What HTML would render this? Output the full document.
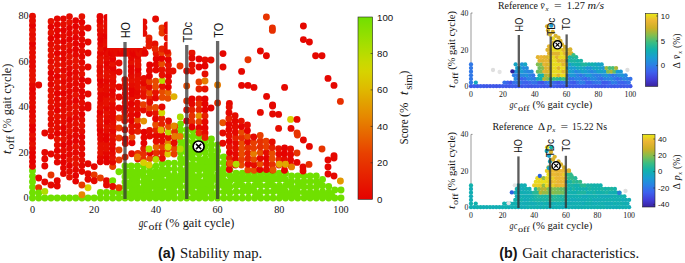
<!DOCTYPE html>
<html><head><meta charset="utf-8"><title>Stability map</title>
<style>html,body{margin:0;padding:0;background:#fff;}svg{display:block;}text{font-family:"Liberation Serif",serif;fill:#141414;}.ss{font-family:"Liberation Sans",sans-serif;}</style></head><body>
<svg width="685" height="263" viewBox="0 0 685 263">
<rect width="685" height="263" fill="#fff"/>
<defs>
<linearGradient id="gs" x1="0" y1="1" x2="0" y2="0">
<stop offset="0%" stop-color="#e50200"/>
<stop offset="5%" stop-color="#e60e00"/>
<stop offset="10%" stop-color="#e61b00"/>
<stop offset="15%" stop-color="#e72700"/>
<stop offset="20%" stop-color="#e73400"/>
<stop offset="25%" stop-color="#e84000"/>
<stop offset="30%" stop-color="#e85200"/>
<stop offset="35%" stop-color="#e76400"/>
<stop offset="40%" stop-color="#e67500"/>
<stop offset="45%" stop-color="#e68700"/>
<stop offset="50%" stop-color="#e49700"/>
<stop offset="55%" stop-color="#e1a700"/>
<stop offset="60%" stop-color="#dfb800"/>
<stop offset="65%" stop-color="#dbc600"/>
<stop offset="70%" stop-color="#d6d300"/>
<stop offset="75%" stop-color="#c9d900"/>
<stop offset="80%" stop-color="#b7dc00"/>
<stop offset="85%" stop-color="#a5de00"/>
<stop offset="90%" stop-color="#93df00"/>
<stop offset="95%" stop-color="#82df00"/>
<stop offset="100%" stop-color="#70e000"/>
</linearGradient>
<linearGradient id="gp" x1="0" y1="1" x2="0" y2="0">
<stop offset="0%" stop-color="#3a239e"/>
<stop offset="5%" stop-color="#3e31bc"/>
<stop offset="10%" stop-color="#423ed9"/>
<stop offset="15%" stop-color="#4050e3"/>
<stop offset="20%" stop-color="#3d61ee"/>
<stop offset="25%" stop-color="#3471e9"/>
<stop offset="30%" stop-color="#2a82e4"/>
<stop offset="35%" stop-color="#2190db"/>
<stop offset="40%" stop-color="#199ed1"/>
<stop offset="45%" stop-color="#15a7bf"/>
<stop offset="50%" stop-color="#11b1ae"/>
<stop offset="55%" stop-color="#24b799"/>
<stop offset="60%" stop-color="#38bd84"/>
<stop offset="65%" stop-color="#5dbd6a"/>
<stop offset="70%" stop-color="#82be50"/>
<stop offset="75%" stop-color="#a7b73b"/>
<stop offset="80%" stop-color="#cdb026"/>
<stop offset="85%" stop-color="#dcb32d"/>
<stop offset="90%" stop-color="#ecb535"/>
<stop offset="95%" stop-color="#eacf24"/>
<stop offset="100%" stop-color="#e8e914"/>
</linearGradient>
</defs>
<g id="main">
<g fill="#70e000">
<circle cx="32.5" cy="198.0" r="3.45"/>
<circle cx="32.5" cy="192.6" r="3.45"/>
<circle cx="32.5" cy="187.1" r="3.45"/>
<circle cx="32.5" cy="181.7" r="3.45"/>
<circle cx="32.5" cy="176.2" r="3.45"/>
<circle cx="32.5" cy="170.8" r="3.45"/>
<circle cx="38.7" cy="198.0" r="3.45"/>
<circle cx="44.8" cy="198.0" r="3.45"/>
<circle cx="51.0" cy="198.0" r="3.45"/>
<circle cx="57.2" cy="198.0" r="3.45"/>
<circle cx="63.4" cy="198.0" r="3.45"/>
<circle cx="69.5" cy="198.0" r="3.45"/>
<circle cx="75.7" cy="198.0" r="3.45"/>
<circle cx="81.9" cy="198.0" r="3.45"/>
<circle cx="88.0" cy="198.0" r="3.45"/>
<circle cx="94.2" cy="198.0" r="3.45"/>
<circle cx="100.4" cy="198.0" r="3.45"/>
<circle cx="100.4" cy="192.5" r="3.45"/>
<circle cx="106.5" cy="198.0" r="3.45"/>
<circle cx="106.5" cy="192.5" r="3.45"/>
<circle cx="112.7" cy="198.0" r="3.45"/>
<circle cx="112.7" cy="192.5" r="3.45"/>
<circle cx="118.9" cy="198.0" r="3.45"/>
<circle cx="118.9" cy="192.5" r="3.45"/>
<circle cx="125.0" cy="198.0" r="3.45"/>
<circle cx="125.0" cy="192.7" r="3.45"/>
<circle cx="125.0" cy="187.3" r="3.45"/>
<circle cx="125.0" cy="182.0" r="3.45"/>
<circle cx="125.0" cy="176.7" r="3.45"/>
<circle cx="125.0" cy="171.3" r="3.45"/>
<circle cx="125.0" cy="166.0" r="3.45"/>
<circle cx="131.2" cy="198.0" r="3.45"/>
<circle cx="131.2" cy="192.7" r="3.45"/>
<circle cx="131.2" cy="187.3" r="3.45"/>
<circle cx="131.2" cy="182.0" r="3.45"/>
<circle cx="131.2" cy="176.7" r="3.45"/>
<circle cx="131.2" cy="171.3" r="3.45"/>
<circle cx="131.2" cy="166.0" r="3.45"/>
<circle cx="137.4" cy="198.0" r="3.45"/>
<circle cx="137.4" cy="192.7" r="3.45"/>
<circle cx="137.4" cy="187.3" r="3.45"/>
<circle cx="137.4" cy="182.0" r="3.45"/>
<circle cx="137.4" cy="176.7" r="3.45"/>
<circle cx="137.4" cy="171.3" r="3.45"/>
<circle cx="137.4" cy="166.0" r="3.45"/>
<circle cx="143.6" cy="198.0" r="3.45"/>
<circle cx="143.6" cy="192.7" r="3.45"/>
<circle cx="143.6" cy="187.3" r="3.45"/>
<circle cx="143.6" cy="182.0" r="3.45"/>
<circle cx="143.6" cy="176.7" r="3.45"/>
<circle cx="143.6" cy="171.3" r="3.45"/>
<circle cx="143.6" cy="166.0" r="3.45"/>
<circle cx="149.7" cy="198.0" r="3.45"/>
<circle cx="149.7" cy="192.8" r="3.45"/>
<circle cx="149.7" cy="187.7" r="3.45"/>
<circle cx="149.7" cy="182.5" r="3.45"/>
<circle cx="149.7" cy="177.3" r="3.45"/>
<circle cx="149.7" cy="172.2" r="3.45"/>
<circle cx="149.7" cy="167.0" r="3.45"/>
<circle cx="155.9" cy="198.0" r="3.45"/>
<circle cx="155.9" cy="192.7" r="3.45"/>
<circle cx="155.9" cy="187.4" r="3.45"/>
<circle cx="155.9" cy="182.2" r="3.45"/>
<circle cx="155.9" cy="176.9" r="3.45"/>
<circle cx="155.9" cy="171.6" r="3.45"/>
<circle cx="155.9" cy="166.3" r="3.45"/>
<circle cx="162.1" cy="198.0" r="3.45"/>
<circle cx="162.1" cy="192.2" r="3.45"/>
<circle cx="162.1" cy="186.5" r="3.45"/>
<circle cx="162.1" cy="180.8" r="3.45"/>
<circle cx="162.1" cy="175.0" r="3.45"/>
<circle cx="162.1" cy="169.2" r="3.45"/>
<circle cx="162.1" cy="163.5" r="3.45"/>
<circle cx="168.2" cy="198.0" r="3.45"/>
<circle cx="168.2" cy="192.2" r="3.45"/>
<circle cx="168.2" cy="186.4" r="3.45"/>
<circle cx="168.2" cy="180.7" r="3.45"/>
<circle cx="168.2" cy="174.9" r="3.45"/>
<circle cx="168.2" cy="169.1" r="3.45"/>
<circle cx="168.2" cy="163.3" r="3.45"/>
<circle cx="174.4" cy="198.0" r="3.45"/>
<circle cx="174.4" cy="192.2" r="3.45"/>
<circle cx="174.4" cy="186.4" r="3.45"/>
<circle cx="174.4" cy="180.6" r="3.45"/>
<circle cx="174.4" cy="174.8" r="3.45"/>
<circle cx="174.4" cy="168.9" r="3.45"/>
<circle cx="174.4" cy="163.1" r="3.45"/>
<circle cx="180.6" cy="198.0" r="3.45"/>
<circle cx="180.6" cy="192.3" r="3.45"/>
<circle cx="180.6" cy="186.6" r="3.45"/>
<circle cx="180.6" cy="180.9" r="3.45"/>
<circle cx="180.6" cy="175.2" r="3.45"/>
<circle cx="180.6" cy="169.5" r="3.45"/>
<circle cx="180.6" cy="163.8" r="3.45"/>
<circle cx="180.6" cy="158.2" r="3.45"/>
<circle cx="180.6" cy="152.5" r="3.45"/>
<circle cx="180.6" cy="146.8" r="3.45"/>
<circle cx="180.6" cy="141.1" r="3.45"/>
<circle cx="180.6" cy="135.4" r="3.45"/>
<circle cx="180.6" cy="129.7" r="3.45"/>
<circle cx="180.6" cy="124.0" r="3.45"/>
<circle cx="186.8" cy="198.0" r="3.45"/>
<circle cx="186.8" cy="192.3" r="3.45"/>
<circle cx="186.8" cy="186.7" r="3.45"/>
<circle cx="186.8" cy="181.0" r="3.45"/>
<circle cx="186.8" cy="175.3" r="3.45"/>
<circle cx="186.8" cy="169.7" r="3.45"/>
<circle cx="186.8" cy="164.0" r="3.45"/>
<circle cx="186.8" cy="158.3" r="3.45"/>
<circle cx="186.8" cy="152.7" r="3.45"/>
<circle cx="186.8" cy="147.0" r="3.45"/>
<circle cx="186.8" cy="141.3" r="3.45"/>
<circle cx="186.8" cy="135.7" r="3.45"/>
<circle cx="186.8" cy="130.0" r="3.45"/>
<circle cx="192.9" cy="198.0" r="3.45"/>
<circle cx="192.9" cy="192.4" r="3.45"/>
<circle cx="192.9" cy="186.8" r="3.45"/>
<circle cx="192.9" cy="181.2" r="3.45"/>
<circle cx="192.9" cy="175.7" r="3.45"/>
<circle cx="192.9" cy="170.1" r="3.45"/>
<circle cx="192.9" cy="164.5" r="3.45"/>
<circle cx="192.9" cy="158.9" r="3.45"/>
<circle cx="192.9" cy="153.3" r="3.45"/>
<circle cx="192.9" cy="147.8" r="3.45"/>
<circle cx="192.9" cy="142.2" r="3.45"/>
<circle cx="192.9" cy="136.6" r="3.45"/>
<circle cx="192.9" cy="131.0" r="3.45"/>
<circle cx="199.1" cy="198.0" r="3.45"/>
<circle cx="199.1" cy="192.5" r="3.45"/>
<circle cx="199.1" cy="186.9" r="3.45"/>
<circle cx="199.1" cy="181.4" r="3.45"/>
<circle cx="199.1" cy="175.8" r="3.45"/>
<circle cx="199.1" cy="170.3" r="3.45"/>
<circle cx="199.1" cy="164.7" r="3.45"/>
<circle cx="199.1" cy="159.2" r="3.45"/>
<circle cx="199.1" cy="153.6" r="3.45"/>
<circle cx="199.1" cy="148.1" r="3.45"/>
<circle cx="199.1" cy="142.5" r="3.45"/>
<circle cx="199.1" cy="137.0" r="3.45"/>
<circle cx="205.3" cy="198.0" r="3.45"/>
<circle cx="205.3" cy="192.3" r="3.45"/>
<circle cx="205.3" cy="186.6" r="3.45"/>
<circle cx="205.3" cy="180.9" r="3.45"/>
<circle cx="205.3" cy="175.2" r="3.45"/>
<circle cx="205.3" cy="169.5" r="3.45"/>
<circle cx="205.3" cy="163.8" r="3.45"/>
<circle cx="205.3" cy="158.1" r="3.45"/>
<circle cx="205.3" cy="152.4" r="3.45"/>
<circle cx="205.3" cy="146.7" r="3.45"/>
<circle cx="205.3" cy="141.0" r="3.45"/>
<circle cx="211.4" cy="198.0" r="3.45"/>
<circle cx="211.4" cy="192.6" r="3.45"/>
<circle cx="211.4" cy="187.3" r="3.45"/>
<circle cx="211.4" cy="181.9" r="3.45"/>
<circle cx="211.4" cy="176.5" r="3.45"/>
<circle cx="211.4" cy="171.2" r="3.45"/>
<circle cx="211.4" cy="165.8" r="3.45"/>
<circle cx="211.4" cy="160.5" r="3.45"/>
<circle cx="211.4" cy="155.1" r="3.45"/>
<circle cx="211.4" cy="149.7" r="3.45"/>
<circle cx="211.4" cy="144.4" r="3.45"/>
<circle cx="211.4" cy="139.0" r="3.45"/>
<circle cx="217.6" cy="198.0" r="3.45"/>
<circle cx="217.6" cy="192.1" r="3.45"/>
<circle cx="217.6" cy="186.2" r="3.45"/>
<circle cx="217.6" cy="180.3" r="3.45"/>
<circle cx="217.6" cy="174.4" r="3.45"/>
<circle cx="217.6" cy="168.6" r="3.45"/>
<circle cx="217.6" cy="162.7" r="3.45"/>
<circle cx="217.6" cy="156.8" r="3.45"/>
<circle cx="217.6" cy="150.9" r="3.45"/>
<circle cx="217.6" cy="145.0" r="3.45"/>
<circle cx="223.8" cy="198.0" r="3.45"/>
<circle cx="223.8" cy="192.1" r="3.45"/>
<circle cx="223.8" cy="186.3" r="3.45"/>
<circle cx="223.8" cy="180.4" r="3.45"/>
<circle cx="223.8" cy="174.6" r="3.45"/>
<circle cx="223.8" cy="168.7" r="3.45"/>
<circle cx="223.8" cy="162.9" r="3.45"/>
<circle cx="223.8" cy="157.0" r="3.45"/>
<circle cx="229.9" cy="198.0" r="3.45"/>
<circle cx="229.9" cy="192.4" r="3.45"/>
<circle cx="229.9" cy="186.8" r="3.45"/>
<circle cx="229.9" cy="181.2" r="3.45"/>
<circle cx="229.9" cy="175.6" r="3.45"/>
<circle cx="229.9" cy="170.0" r="3.45"/>
<circle cx="236.1" cy="198.0" r="3.45"/>
<circle cx="236.1" cy="191.8" r="3.45"/>
<circle cx="236.1" cy="185.7" r="3.45"/>
<circle cx="236.1" cy="179.5" r="3.45"/>
<circle cx="236.1" cy="173.3" r="3.45"/>
<circle cx="242.3" cy="198.0" r="3.45"/>
<circle cx="242.3" cy="191.8" r="3.45"/>
<circle cx="242.3" cy="185.7" r="3.45"/>
<circle cx="242.3" cy="179.5" r="3.45"/>
<circle cx="242.3" cy="173.3" r="3.45"/>
<circle cx="248.4" cy="198.0" r="3.45"/>
<circle cx="248.4" cy="191.8" r="3.45"/>
<circle cx="248.4" cy="185.7" r="3.45"/>
<circle cx="248.4" cy="179.5" r="3.45"/>
<circle cx="248.4" cy="173.3" r="3.45"/>
<circle cx="254.6" cy="198.0" r="3.45"/>
<circle cx="254.6" cy="191.8" r="3.45"/>
<circle cx="254.6" cy="185.7" r="3.45"/>
<circle cx="254.6" cy="179.5" r="3.45"/>
<circle cx="254.6" cy="173.3" r="3.45"/>
<circle cx="260.8" cy="198.0" r="3.45"/>
<circle cx="260.8" cy="191.8" r="3.45"/>
<circle cx="260.8" cy="185.7" r="3.45"/>
<circle cx="260.8" cy="179.5" r="3.45"/>
<circle cx="260.8" cy="173.3" r="3.45"/>
<circle cx="267.0" cy="198.0" r="3.45"/>
<circle cx="267.0" cy="191.8" r="3.45"/>
<circle cx="267.0" cy="185.7" r="3.45"/>
<circle cx="267.0" cy="179.5" r="3.45"/>
<circle cx="267.0" cy="173.3" r="3.45"/>
<circle cx="273.1" cy="198.0" r="3.45"/>
<circle cx="273.1" cy="191.8" r="3.45"/>
<circle cx="273.1" cy="185.7" r="3.45"/>
<circle cx="273.1" cy="179.5" r="3.45"/>
<circle cx="273.1" cy="173.3" r="3.45"/>
<circle cx="279.3" cy="198.0" r="3.45"/>
<circle cx="279.3" cy="191.8" r="3.45"/>
<circle cx="279.3" cy="185.7" r="3.45"/>
<circle cx="279.3" cy="179.5" r="3.45"/>
<circle cx="279.3" cy="173.3" r="3.45"/>
<circle cx="285.5" cy="198.0" r="3.45"/>
<circle cx="285.5" cy="191.8" r="3.45"/>
<circle cx="285.5" cy="185.7" r="3.45"/>
<circle cx="285.5" cy="179.5" r="3.45"/>
<circle cx="285.5" cy="173.3" r="3.45"/>
<circle cx="291.6" cy="198.0" r="3.45"/>
<circle cx="291.6" cy="192.5" r="3.45"/>
<circle cx="291.6" cy="187.0" r="3.45"/>
<circle cx="291.6" cy="181.5" r="3.45"/>
<circle cx="291.6" cy="176.0" r="3.45"/>
<circle cx="297.8" cy="198.0" r="3.45"/>
<circle cx="297.8" cy="192.5" r="3.45"/>
<circle cx="297.8" cy="187.0" r="3.45"/>
<circle cx="297.8" cy="181.5" r="3.45"/>
<circle cx="297.8" cy="176.0" r="3.45"/>
<circle cx="304.0" cy="198.0" r="3.45"/>
<circle cx="304.0" cy="192.5" r="3.45"/>
<circle cx="304.0" cy="187.0" r="3.45"/>
<circle cx="304.0" cy="181.5" r="3.45"/>
<circle cx="304.0" cy="176.0" r="3.45"/>
<circle cx="310.1" cy="198.0" r="3.45"/>
<circle cx="310.1" cy="192.5" r="3.45"/>
<circle cx="310.1" cy="187.0" r="3.45"/>
<circle cx="310.1" cy="181.5" r="3.45"/>
<circle cx="310.1" cy="176.0" r="3.45"/>
<circle cx="316.3" cy="198.0" r="3.45"/>
<circle cx="316.3" cy="192.5" r="3.45"/>
<circle cx="316.3" cy="187.0" r="3.45"/>
<circle cx="316.3" cy="181.5" r="3.45"/>
<circle cx="316.3" cy="176.0" r="3.45"/>
<circle cx="322.5" cy="198.0" r="3.45"/>
<circle cx="322.5" cy="191.8" r="3.45"/>
<circle cx="322.5" cy="185.7" r="3.45"/>
<circle cx="322.5" cy="179.5" r="3.45"/>
<circle cx="328.7" cy="198.0" r="3.45"/>
<circle cx="328.7" cy="192.2" r="3.45"/>
<circle cx="328.7" cy="186.5" r="3.45"/>
<circle cx="334.8" cy="198.0" r="3.45"/>
<circle cx="334.8" cy="190.0" r="3.45"/>
<circle cx="341.0" cy="198.0" r="3.45"/>
<circle cx="341.0" cy="190.0" r="3.45"/>
<circle cx="128.1" cy="195.2" r="3.45"/>
<circle cx="128.1" cy="184.0" r="3.45"/>
<circle cx="128.1" cy="172.8" r="3.45"/>
<circle cx="134.3" cy="195.2" r="3.45"/>
<circle cx="134.3" cy="189.6" r="3.45"/>
<circle cx="134.3" cy="184.0" r="3.45"/>
<circle cx="134.3" cy="178.4" r="3.45"/>
<circle cx="134.3" cy="172.8" r="3.45"/>
<circle cx="140.5" cy="195.2" r="3.45"/>
<circle cx="140.5" cy="189.6" r="3.45"/>
<circle cx="140.5" cy="172.8" r="3.45"/>
<circle cx="146.6" cy="195.2" r="3.45"/>
<circle cx="146.6" cy="189.6" r="3.45"/>
<circle cx="146.6" cy="184.0" r="3.45"/>
<circle cx="146.6" cy="178.4" r="3.45"/>
<circle cx="152.8" cy="195.2" r="3.45"/>
<circle cx="152.8" cy="184.0" r="3.45"/>
<circle cx="152.8" cy="172.8" r="3.45"/>
<circle cx="159.0" cy="195.2" r="3.45"/>
<circle cx="159.0" cy="189.6" r="3.45"/>
<circle cx="159.0" cy="184.0" r="3.45"/>
<circle cx="159.0" cy="178.4" r="3.45"/>
<circle cx="159.0" cy="172.8" r="3.45"/>
<circle cx="165.2" cy="195.2" r="3.45"/>
<circle cx="165.2" cy="184.0" r="3.45"/>
<circle cx="165.2" cy="172.8" r="3.45"/>
<circle cx="171.3" cy="195.2" r="3.45"/>
<circle cx="171.3" cy="189.6" r="3.45"/>
<circle cx="171.3" cy="184.0" r="3.45"/>
<circle cx="171.3" cy="178.4" r="3.45"/>
<circle cx="177.5" cy="184.0" r="3.45"/>
<circle cx="177.5" cy="178.4" r="3.45"/>
<circle cx="183.7" cy="195.2" r="3.45"/>
<circle cx="183.7" cy="178.4" r="3.45"/>
<circle cx="183.7" cy="172.8" r="3.45"/>
<circle cx="183.7" cy="161.6" r="3.45"/>
<circle cx="183.7" cy="150.4" r="3.45"/>
<circle cx="183.7" cy="144.8" r="3.45"/>
<circle cx="189.8" cy="189.6" r="3.45"/>
<circle cx="189.8" cy="184.0" r="3.45"/>
<circle cx="189.8" cy="178.4" r="3.45"/>
<circle cx="189.8" cy="172.8" r="3.45"/>
<circle cx="189.8" cy="167.2" r="3.45"/>
<circle cx="189.8" cy="156.0" r="3.45"/>
<circle cx="189.8" cy="150.4" r="3.45"/>
<circle cx="196.0" cy="195.2" r="3.45"/>
<circle cx="196.0" cy="184.0" r="3.45"/>
<circle cx="196.0" cy="178.4" r="3.45"/>
<circle cx="196.0" cy="167.2" r="3.45"/>
<circle cx="196.0" cy="150.4" r="3.45"/>
<circle cx="202.2" cy="195.2" r="3.45"/>
<circle cx="202.2" cy="189.6" r="3.45"/>
<circle cx="202.2" cy="184.0" r="3.45"/>
<circle cx="202.2" cy="167.2" r="3.45"/>
<circle cx="202.2" cy="161.6" r="3.45"/>
<circle cx="208.3" cy="189.6" r="3.45"/>
<circle cx="208.3" cy="184.0" r="3.45"/>
<circle cx="208.3" cy="178.4" r="3.45"/>
<circle cx="208.3" cy="172.8" r="3.45"/>
<circle cx="208.3" cy="167.2" r="3.45"/>
<circle cx="208.3" cy="161.6" r="3.45"/>
<circle cx="214.5" cy="195.2" r="3.45"/>
<circle cx="214.5" cy="178.4" r="3.45"/>
<circle cx="214.5" cy="167.2" r="3.45"/>
<circle cx="214.5" cy="161.6" r="3.45"/>
<circle cx="214.5" cy="156.0" r="3.45"/>
<circle cx="220.7" cy="184.0" r="3.45"/>
<circle cx="220.7" cy="178.4" r="3.45"/>
<circle cx="220.7" cy="172.8" r="3.45"/>
<circle cx="226.9" cy="189.6" r="3.45"/>
<circle cx="226.9" cy="184.0" r="3.45"/>
<circle cx="233.0" cy="178.4" r="3.45"/>
<circle cx="239.2" cy="184.0" r="3.45"/>
<circle cx="239.2" cy="178.4" r="3.45"/>
<circle cx="245.4" cy="189.6" r="3.45"/>
<circle cx="245.4" cy="178.4" r="3.45"/>
<circle cx="251.5" cy="189.6" r="3.45"/>
<circle cx="251.5" cy="178.4" r="3.45"/>
<circle cx="257.7" cy="195.2" r="3.45"/>
<circle cx="257.7" cy="184.0" r="3.45"/>
<circle cx="257.7" cy="178.4" r="3.45"/>
<circle cx="263.9" cy="178.4" r="3.45"/>
<circle cx="270.0" cy="184.0" r="3.45"/>
<circle cx="270.0" cy="178.4" r="3.45"/>
<circle cx="276.2" cy="189.6" r="3.45"/>
<circle cx="276.2" cy="178.4" r="3.45"/>
<circle cx="282.4" cy="195.2" r="3.45"/>
<circle cx="282.4" cy="189.6" r="3.45"/>
<circle cx="282.4" cy="178.4" r="3.45"/>
<circle cx="288.6" cy="195.2" r="3.45"/>
<circle cx="288.6" cy="184.0" r="3.45"/>
<circle cx="294.7" cy="195.2" r="3.45"/>
<circle cx="294.7" cy="189.6" r="3.45"/>
<circle cx="300.9" cy="184.0" r="3.45"/>
<circle cx="307.1" cy="195.2" r="3.45"/>
<circle cx="313.2" cy="195.2" r="3.45"/>
<circle cx="319.4" cy="195.2" r="3.45"/>
<circle cx="319.4" cy="184.0" r="3.45"/>
<circle cx="325.6" cy="195.2" r="3.45"/>
<circle cx="331.7" cy="195.2" r="3.45"/>
</g><g>
<circle cx="32.5" cy="166.2" r="3.45" fill="#e50700"/>
<circle cx="32.5" cy="161.6" r="3.45" fill="#e50200"/>
<circle cx="32.5" cy="157.1" r="3.45" fill="#e50200"/>
<circle cx="32.5" cy="152.6" r="3.45" fill="#e50200"/>
<circle cx="32.5" cy="148.0" r="3.45" fill="#e50700"/>
<circle cx="32.5" cy="143.5" r="3.45" fill="#e61100"/>
<circle cx="32.5" cy="138.9" r="3.45" fill="#e50700"/>
<circle cx="32.5" cy="134.4" r="3.45" fill="#e61100"/>
<circle cx="32.5" cy="129.8" r="3.45" fill="#e50200"/>
<circle cx="32.5" cy="125.3" r="3.45" fill="#e50200"/>
<circle cx="32.5" cy="120.7" r="3.45" fill="#e61100"/>
<circle cx="32.5" cy="116.2" r="3.45" fill="#e50700"/>
<circle cx="32.5" cy="111.6" r="3.45" fill="#e50700"/>
<circle cx="32.5" cy="107.1" r="3.45" fill="#e50700"/>
<circle cx="32.5" cy="102.6" r="3.45" fill="#e50c00"/>
<circle cx="32.5" cy="98.0" r="3.45" fill="#e50700"/>
<circle cx="32.5" cy="93.5" r="3.45" fill="#e50700"/>
<circle cx="32.5" cy="88.9" r="3.45" fill="#e50200"/>
<circle cx="32.5" cy="84.4" r="3.45" fill="#e50700"/>
<circle cx="32.5" cy="79.8" r="3.45" fill="#e61100"/>
<circle cx="32.5" cy="75.3" r="3.45" fill="#e61100"/>
<circle cx="32.5" cy="70.7" r="3.45" fill="#e61100"/>
<circle cx="32.5" cy="66.2" r="3.45" fill="#e50700"/>
<circle cx="32.5" cy="61.7" r="3.45" fill="#e50700"/>
<circle cx="32.5" cy="57.1" r="3.45" fill="#e50c00"/>
<circle cx="32.5" cy="52.6" r="3.45" fill="#e50c00"/>
<circle cx="32.5" cy="48.0" r="3.45" fill="#e50c00"/>
<circle cx="32.5" cy="43.5" r="3.45" fill="#e50200"/>
<circle cx="32.5" cy="38.9" r="3.45" fill="#e61100"/>
<circle cx="32.5" cy="34.4" r="3.45" fill="#e50c00"/>
<circle cx="32.5" cy="29.8" r="3.45" fill="#e61100"/>
<circle cx="32.5" cy="25.3" r="3.45" fill="#e50200"/>
<circle cx="32.5" cy="20.7" r="3.45" fill="#e50c00"/>
<circle cx="32.5" cy="16.2" r="3.45" fill="#e50c00"/>
<circle cx="51.0" cy="21.4" r="3.3" fill="#e61100"/>
<circle cx="51.0" cy="27.1" r="3.3" fill="#e50200"/>
<circle cx="51.0" cy="32.9" r="3.3" fill="#e61100"/>
<circle cx="51.0" cy="38.6" r="3.3" fill="#e50200"/>
<circle cx="51.0" cy="44.4" r="3.3" fill="#e50c00"/>
<circle cx="51.0" cy="50.1" r="3.3" fill="#e61100"/>
<circle cx="51.0" cy="55.8" r="3.3" fill="#e61100"/>
<circle cx="51.0" cy="61.6" r="3.3" fill="#e50c00"/>
<circle cx="51.0" cy="67.3" r="3.3" fill="#e61100"/>
<circle cx="51.0" cy="73.1" r="3.3" fill="#e50200"/>
<circle cx="51.0" cy="78.8" r="3.3" fill="#e50700"/>
<circle cx="51.0" cy="84.5" r="3.3" fill="#e50700"/>
<circle cx="51.0" cy="90.3" r="3.3" fill="#e61100"/>
<circle cx="51.0" cy="96.0" r="3.3" fill="#e61100"/>
<circle cx="51.0" cy="101.8" r="3.3" fill="#e61100"/>
<circle cx="51.0" cy="107.5" r="3.3" fill="#e50c00"/>
<circle cx="51.0" cy="113.2" r="3.3" fill="#e61100"/>
<circle cx="51.0" cy="119.0" r="3.3" fill="#e50c00"/>
<circle cx="51.0" cy="124.7" r="3.3" fill="#e50c00"/>
<circle cx="51.0" cy="130.5" r="3.3" fill="#e61100"/>
<circle cx="51.0" cy="136.2" r="3.3" fill="#e50700"/>
<circle cx="57.2" cy="18.8" r="3.3" fill="#e50700"/>
<circle cx="57.2" cy="24.5" r="3.3" fill="#e50700"/>
<circle cx="57.2" cy="30.3" r="3.3" fill="#e50700"/>
<circle cx="57.2" cy="36.0" r="3.3" fill="#e50200"/>
<circle cx="57.2" cy="41.8" r="3.3" fill="#e50c00"/>
<circle cx="57.2" cy="47.5" r="3.3" fill="#e50c00"/>
<circle cx="57.2" cy="53.2" r="3.3" fill="#e50200"/>
<circle cx="57.2" cy="59.0" r="3.3" fill="#e61100"/>
<circle cx="57.2" cy="64.7" r="3.3" fill="#e61100"/>
<circle cx="57.2" cy="70.5" r="3.3" fill="#e61100"/>
<circle cx="57.2" cy="76.2" r="3.3" fill="#e50200"/>
<circle cx="57.2" cy="81.9" r="3.3" fill="#e61100"/>
<circle cx="57.2" cy="87.7" r="3.3" fill="#e50c00"/>
<circle cx="57.2" cy="93.4" r="3.3" fill="#e50200"/>
<circle cx="57.2" cy="99.2" r="3.3" fill="#e50700"/>
<circle cx="57.2" cy="104.9" r="3.3" fill="#e50c00"/>
<circle cx="57.2" cy="110.6" r="3.3" fill="#e50200"/>
<circle cx="57.2" cy="116.4" r="3.3" fill="#e61100"/>
<circle cx="57.2" cy="122.1" r="3.3" fill="#e50c00"/>
<circle cx="57.2" cy="127.9" r="3.3" fill="#e50c00"/>
<circle cx="57.2" cy="133.6" r="3.3" fill="#e50200"/>
<circle cx="57.2" cy="139.3" r="3.3" fill="#e61100"/>
<circle cx="57.2" cy="145.1" r="3.3" fill="#e50c00"/>
<circle cx="57.2" cy="150.8" r="3.3" fill="#e50200"/>
<circle cx="57.2" cy="156.6" r="3.3" fill="#e50c00"/>
<circle cx="57.2" cy="162.3" r="3.3" fill="#e50700"/>
<circle cx="63.4" cy="18.8" r="3.3" fill="#e50700"/>
<circle cx="63.4" cy="24.5" r="3.3" fill="#e50c00"/>
<circle cx="63.4" cy="30.3" r="3.3" fill="#e50200"/>
<circle cx="63.4" cy="36.0" r="3.3" fill="#e50c00"/>
<circle cx="63.4" cy="41.8" r="3.3" fill="#e50200"/>
<circle cx="63.4" cy="47.5" r="3.3" fill="#e50c00"/>
<circle cx="63.4" cy="53.2" r="3.3" fill="#e50700"/>
<circle cx="63.4" cy="59.0" r="3.3" fill="#e50700"/>
<circle cx="63.4" cy="64.7" r="3.3" fill="#e50c00"/>
<circle cx="63.4" cy="70.5" r="3.3" fill="#e50700"/>
<circle cx="63.4" cy="76.2" r="3.3" fill="#e61100"/>
<circle cx="63.4" cy="81.9" r="3.3" fill="#e50700"/>
<circle cx="63.4" cy="87.7" r="3.3" fill="#e61100"/>
<circle cx="63.4" cy="93.4" r="3.3" fill="#e50200"/>
<circle cx="63.4" cy="99.2" r="3.3" fill="#e50c00"/>
<circle cx="63.4" cy="104.9" r="3.3" fill="#e50700"/>
<circle cx="63.4" cy="110.6" r="3.3" fill="#e50c00"/>
<circle cx="63.4" cy="116.4" r="3.3" fill="#e50c00"/>
<circle cx="63.4" cy="122.1" r="3.3" fill="#e50c00"/>
<circle cx="63.4" cy="127.9" r="3.3" fill="#e50200"/>
<circle cx="63.4" cy="133.6" r="3.3" fill="#e50700"/>
<circle cx="63.4" cy="139.3" r="3.3" fill="#e61100"/>
<circle cx="63.4" cy="145.1" r="3.3" fill="#e50200"/>
<circle cx="63.4" cy="150.8" r="3.3" fill="#e50c00"/>
<circle cx="63.4" cy="156.6" r="3.3" fill="#e50200"/>
<circle cx="63.4" cy="162.3" r="3.3" fill="#e50200"/>
<circle cx="63.4" cy="168.0" r="3.3" fill="#e50700"/>
<circle cx="63.4" cy="173.8" r="3.3" fill="#e50700"/>
<circle cx="69.5" cy="16.6" r="3.3" fill="#e50c00"/>
<circle cx="69.5" cy="22.3" r="3.3" fill="#e61100"/>
<circle cx="69.5" cy="28.1" r="3.3" fill="#e50200"/>
<circle cx="69.5" cy="33.8" r="3.3" fill="#e50700"/>
<circle cx="69.5" cy="39.6" r="3.3" fill="#e50200"/>
<circle cx="69.5" cy="45.3" r="3.3" fill="#e61100"/>
<circle cx="69.5" cy="51.0" r="3.3" fill="#e50700"/>
<circle cx="69.5" cy="56.8" r="3.3" fill="#e61100"/>
<circle cx="69.5" cy="62.5" r="3.3" fill="#e50c00"/>
<circle cx="69.5" cy="68.3" r="3.3" fill="#e50700"/>
<circle cx="69.5" cy="74.0" r="3.3" fill="#e50200"/>
<circle cx="69.5" cy="79.7" r="3.3" fill="#e50700"/>
<circle cx="69.5" cy="85.5" r="3.3" fill="#e50700"/>
<circle cx="69.5" cy="91.2" r="3.3" fill="#e50700"/>
<circle cx="69.5" cy="97.0" r="3.3" fill="#e50700"/>
<circle cx="69.5" cy="102.7" r="3.3" fill="#e50700"/>
<circle cx="69.5" cy="108.4" r="3.3" fill="#e50c00"/>
<circle cx="69.5" cy="114.2" r="3.3" fill="#e61100"/>
<circle cx="69.5" cy="119.9" r="3.3" fill="#e50200"/>
<circle cx="69.5" cy="125.7" r="3.3" fill="#e50c00"/>
<circle cx="69.5" cy="131.4" r="3.3" fill="#e61100"/>
<circle cx="69.5" cy="137.1" r="3.3" fill="#e50700"/>
<circle cx="69.5" cy="142.9" r="3.3" fill="#e50200"/>
<circle cx="69.5" cy="148.6" r="3.3" fill="#e50700"/>
<circle cx="69.5" cy="154.4" r="3.3" fill="#e50700"/>
<circle cx="69.5" cy="160.1" r="3.3" fill="#e61100"/>
<circle cx="69.5" cy="165.8" r="3.3" fill="#e50200"/>
<circle cx="69.5" cy="171.6" r="3.3" fill="#e50c00"/>
<circle cx="69.5" cy="177.3" r="3.3" fill="#e61100"/>
<circle cx="75.7" cy="20.5" r="3.3" fill="#e50200"/>
<circle cx="75.7" cy="26.2" r="3.3" fill="#e50200"/>
<circle cx="75.7" cy="32.0" r="3.3" fill="#e50c00"/>
<circle cx="75.7" cy="37.7" r="3.3" fill="#e50200"/>
<circle cx="75.7" cy="43.5" r="3.3" fill="#e50200"/>
<circle cx="75.7" cy="49.2" r="3.3" fill="#e50200"/>
<circle cx="75.7" cy="54.9" r="3.3" fill="#e50700"/>
<circle cx="75.7" cy="60.7" r="3.3" fill="#e61100"/>
<circle cx="75.7" cy="66.4" r="3.3" fill="#e61100"/>
<circle cx="75.7" cy="72.2" r="3.3" fill="#e50700"/>
<circle cx="75.7" cy="77.9" r="3.3" fill="#e50c00"/>
<circle cx="75.7" cy="83.6" r="3.3" fill="#e50700"/>
<circle cx="75.7" cy="89.4" r="3.3" fill="#e50700"/>
<circle cx="75.7" cy="95.1" r="3.3" fill="#e61100"/>
<circle cx="75.7" cy="100.9" r="3.3" fill="#e50200"/>
<circle cx="75.7" cy="106.6" r="3.3" fill="#e61100"/>
<circle cx="75.7" cy="112.3" r="3.3" fill="#e50c00"/>
<circle cx="75.7" cy="118.1" r="3.3" fill="#e50700"/>
<circle cx="75.7" cy="123.8" r="3.3" fill="#e50c00"/>
<circle cx="75.7" cy="129.6" r="3.3" fill="#e50700"/>
<circle cx="75.7" cy="135.3" r="3.3" fill="#e50700"/>
<circle cx="75.7" cy="141.0" r="3.3" fill="#e50200"/>
<circle cx="75.7" cy="146.8" r="3.3" fill="#e61100"/>
<circle cx="75.7" cy="152.5" r="3.3" fill="#e50700"/>
<circle cx="75.7" cy="158.3" r="3.3" fill="#e61100"/>
<circle cx="75.7" cy="164.0" r="3.3" fill="#e61100"/>
<circle cx="75.7" cy="169.7" r="3.3" fill="#e50700"/>
<circle cx="75.7" cy="175.5" r="3.3" fill="#e50200"/>
<circle cx="75.7" cy="181.2" r="3.3" fill="#e50200"/>
<circle cx="81.9" cy="16.6" r="3.3" fill="#e61100"/>
<circle cx="81.9" cy="22.3" r="3.3" fill="#e50200"/>
<circle cx="81.9" cy="28.1" r="3.3" fill="#e50c00"/>
<circle cx="81.9" cy="33.8" r="3.3" fill="#e50200"/>
<circle cx="81.9" cy="39.6" r="3.3" fill="#e50700"/>
<circle cx="81.9" cy="45.3" r="3.3" fill="#e50200"/>
<circle cx="81.9" cy="51.0" r="3.3" fill="#e50c00"/>
<circle cx="81.9" cy="56.8" r="3.3" fill="#e50700"/>
<circle cx="81.9" cy="62.5" r="3.3" fill="#e50700"/>
<circle cx="81.9" cy="68.3" r="3.3" fill="#e50c00"/>
<circle cx="81.9" cy="74.0" r="3.3" fill="#e61100"/>
<circle cx="81.9" cy="79.7" r="3.3" fill="#e50200"/>
<circle cx="81.9" cy="85.5" r="3.3" fill="#e50700"/>
<circle cx="81.9" cy="91.2" r="3.3" fill="#e50200"/>
<circle cx="81.9" cy="97.0" r="3.3" fill="#e50200"/>
<circle cx="81.9" cy="102.7" r="3.3" fill="#e50c00"/>
<circle cx="81.9" cy="108.4" r="3.3" fill="#e50700"/>
<circle cx="81.9" cy="114.2" r="3.3" fill="#e50200"/>
<circle cx="81.9" cy="119.9" r="3.3" fill="#e50c00"/>
<circle cx="81.9" cy="125.7" r="3.3" fill="#e61100"/>
<circle cx="81.9" cy="131.4" r="3.3" fill="#e50c00"/>
<circle cx="81.9" cy="137.1" r="3.3" fill="#e50200"/>
<circle cx="81.9" cy="142.9" r="3.3" fill="#e50700"/>
<circle cx="81.9" cy="148.6" r="3.3" fill="#e50700"/>
<circle cx="81.9" cy="154.4" r="3.3" fill="#e50700"/>
<circle cx="81.9" cy="160.1" r="3.3" fill="#e50c00"/>
<circle cx="81.9" cy="165.8" r="3.3" fill="#e50700"/>
<circle cx="81.9" cy="171.6" r="3.3" fill="#e50700"/>
<circle cx="88.0" cy="28.0" r="3.45" fill="#e50700"/>
<circle cx="88.0" cy="42.0" r="3.45" fill="#e50700"/>
<circle cx="88.0" cy="53.0" r="3.45" fill="#e50700"/>
<circle cx="88.0" cy="67.0" r="3.45" fill="#e50700"/>
<circle cx="88.0" cy="81.0" r="3.45" fill="#e50700"/>
<circle cx="88.0" cy="94.0" r="3.45" fill="#e50700"/>
<circle cx="88.0" cy="105.0" r="3.45" fill="#e50700"/>
<circle cx="88.0" cy="108.0" r="3.45" fill="#e50700"/>
<circle cx="88.0" cy="163.8" r="3.45" fill="#e50700"/>
<circle cx="88.0" cy="173.7" r="3.45" fill="#e50700"/>
<circle cx="88.0" cy="179.3" r="3.45" fill="#e50700"/>
<circle cx="88.0" cy="187.7" r="3.45" fill="#d6d300"/>
<circle cx="38.7" cy="85.0" r="3.45" fill="#e50700"/>
<circle cx="38.7" cy="178.0" r="3.45" fill="#e50700"/>
<circle cx="38.7" cy="187.7" r="3.45" fill="#e73400"/>
<circle cx="38.7" cy="193.0" r="3.45" fill="#70e000"/>
<circle cx="44.8" cy="133.0" r="3.45" fill="#e50700"/>
<circle cx="44.8" cy="152.5" r="3.45" fill="#e50700"/>
<circle cx="44.8" cy="159.0" r="3.45" fill="#e50700"/>
<circle cx="44.8" cy="166.0" r="3.45" fill="#e50700"/>
<circle cx="44.8" cy="182.0" r="3.45" fill="#e50700"/>
<circle cx="44.8" cy="191.4" r="3.45" fill="#b0dd00"/>
<circle cx="51.0" cy="154.0" r="3.45" fill="#e50700"/>
<circle cx="51.0" cy="175.0" r="3.45" fill="#e73400"/>
<circle cx="51.0" cy="185.0" r="3.45" fill="#e50900"/>
<circle cx="57.2" cy="180.7" r="3.45" fill="#e50700"/>
<circle cx="57.2" cy="186.0" r="3.45" fill="#e50700"/>
<circle cx="81.9" cy="185.0" r="3.45" fill="#e83900"/>
<circle cx="81.9" cy="194.8" r="3.45" fill="#e68700"/>
<circle cx="94.2" cy="166.6" r="3.45" fill="#e50700"/>
<circle cx="94.2" cy="175.0" r="3.45" fill="#e83900"/>
<circle cx="94.2" cy="180.7" r="3.45" fill="#e50900"/>
<circle cx="100.4" cy="178.0" r="3.45" fill="#e83e00"/>
<circle cx="106.5" cy="180.7" r="3.45" fill="#e50900"/>
<circle cx="106.5" cy="185.0" r="3.45" fill="#e50900"/>
<circle cx="112.7" cy="166.6" r="3.45" fill="#e83e00"/>
<circle cx="112.7" cy="180.7" r="3.45" fill="#70e000"/>
<circle cx="112.7" cy="186.5" r="3.45" fill="#e50900"/>
<circle cx="118.9" cy="171.7" r="3.45" fill="#70e000"/>
<circle cx="118.9" cy="187.7" r="3.45" fill="#e83900"/>
<circle cx="100.3" cy="161.7" r="3.45" fill="#e50200"/>
<circle cx="100.5" cy="157.2" r="3.45" fill="#e50700"/>
<circle cx="100.6" cy="152.6" r="3.45" fill="#e61100"/>
<circle cx="100.7" cy="148.1" r="3.45" fill="#e61100"/>
<circle cx="100.7" cy="143.6" r="3.45" fill="#e61100"/>
<circle cx="100.6" cy="139.0" r="3.45" fill="#e50700"/>
<circle cx="100.4" cy="134.5" r="3.45" fill="#e50700"/>
<circle cx="100.2" cy="129.9" r="3.45" fill="#e50200"/>
<circle cx="100.1" cy="125.4" r="3.45" fill="#e50c00"/>
<circle cx="100.0" cy="120.9" r="3.45" fill="#e61100"/>
<circle cx="100.1" cy="116.3" r="3.45" fill="#e50c00"/>
<circle cx="100.2" cy="111.8" r="3.45" fill="#e50200"/>
<circle cx="100.4" cy="107.2" r="3.45" fill="#e61100"/>
<circle cx="100.6" cy="102.7" r="3.45" fill="#e50c00"/>
<circle cx="100.7" cy="98.2" r="3.45" fill="#e50700"/>
<circle cx="100.7" cy="93.6" r="3.45" fill="#e50700"/>
<circle cx="100.6" cy="89.1" r="3.45" fill="#e61100"/>
<circle cx="100.5" cy="84.6" r="3.45" fill="#e50700"/>
<circle cx="100.3" cy="80.0" r="3.45" fill="#e50200"/>
<circle cx="100.1" cy="75.5" r="3.45" fill="#e61100"/>
<circle cx="100.0" cy="71.0" r="3.45" fill="#e50c00"/>
<circle cx="100.0" cy="66.4" r="3.45" fill="#e50700"/>
<circle cx="100.2" cy="61.9" r="3.45" fill="#e61100"/>
<circle cx="100.3" cy="57.3" r="3.45" fill="#e61100"/>
<circle cx="100.5" cy="52.8" r="3.45" fill="#e50700"/>
<circle cx="100.7" cy="48.3" r="3.45" fill="#e61100"/>
<circle cx="100.7" cy="43.7" r="3.45" fill="#e50700"/>
<circle cx="100.7" cy="39.2" r="3.45" fill="#e50200"/>
<circle cx="100.5" cy="34.6" r="3.45" fill="#e50700"/>
<circle cx="100.3" cy="30.1" r="3.45" fill="#e50c00"/>
<circle cx="100.2" cy="25.6" r="3.45" fill="#e61100"/>
<circle cx="100.0" cy="21.0" r="3.45" fill="#e50700"/>
<circle cx="100.0" cy="16.5" r="3.45" fill="#e50200"/>
<circle cx="106.7" cy="161.9" r="3.45" fill="#e50200"/>
<circle cx="106.5" cy="157.4" r="3.45" fill="#e50200"/>
<circle cx="106.3" cy="152.9" r="3.45" fill="#e50700"/>
<circle cx="106.2" cy="148.4" r="3.45" fill="#e61100"/>
<circle cx="106.2" cy="143.8" r="3.45" fill="#e61100"/>
<circle cx="106.3" cy="139.3" r="3.45" fill="#e50200"/>
<circle cx="106.5" cy="134.8" r="3.45" fill="#e50200"/>
<circle cx="106.7" cy="130.3" r="3.45" fill="#e50c00"/>
<circle cx="106.8" cy="125.8" r="3.45" fill="#e61100"/>
<circle cx="106.9" cy="121.3" r="3.45" fill="#e50200"/>
<circle cx="106.9" cy="116.8" r="3.45" fill="#e50c00"/>
<circle cx="106.7" cy="112.3" r="3.45" fill="#e61100"/>
<circle cx="106.5" cy="107.8" r="3.45" fill="#e50700"/>
<circle cx="106.4" cy="103.2" r="3.45" fill="#e61100"/>
<circle cx="106.2" cy="98.7" r="3.45" fill="#e61100"/>
<circle cx="106.2" cy="94.2" r="3.45" fill="#e50700"/>
<circle cx="106.3" cy="89.7" r="3.45" fill="#e50c00"/>
<circle cx="106.4" cy="85.2" r="3.45" fill="#e50c00"/>
<circle cx="106.6" cy="80.7" r="3.45" fill="#e50700"/>
<circle cx="106.8" cy="76.2" r="3.45" fill="#e61100"/>
<circle cx="106.9" cy="71.6" r="3.45" fill="#e61100"/>
<circle cx="106.9" cy="67.1" r="3.45" fill="#e50700"/>
<circle cx="106.8" cy="62.6" r="3.45" fill="#e50200"/>
<circle cx="106.6" cy="58.1" r="3.45" fill="#e50c00"/>
<circle cx="106.4" cy="53.6" r="3.45" fill="#e50700"/>
<circle cx="106.3" cy="49.1" r="3.45" fill="#e50c00"/>
<circle cx="106.2" cy="44.6" r="3.45" fill="#e61100"/>
<circle cx="106.2" cy="40.1" r="3.45" fill="#e50c00"/>
<circle cx="106.3" cy="35.5" r="3.45" fill="#e50200"/>
<circle cx="106.5" cy="31.0" r="3.45" fill="#e50c00"/>
<circle cx="106.7" cy="26.5" r="3.45" fill="#e50c00"/>
<circle cx="106.8" cy="22.0" r="3.45" fill="#e50c00"/>
<circle cx="106.9" cy="17.5" r="3.45" fill="#e50200"/>
<circle cx="112.7" cy="162.1" r="3.45" fill="#e50700"/>
<circle cx="112.5" cy="157.6" r="3.45" fill="#e61100"/>
<circle cx="112.4" cy="153.1" r="3.45" fill="#e50c00"/>
<circle cx="112.4" cy="148.6" r="3.45" fill="#e50700"/>
<circle cx="112.4" cy="144.2" r="3.45" fill="#e50c00"/>
<circle cx="112.6" cy="139.7" r="3.45" fill="#e50c00"/>
<circle cx="112.8" cy="135.2" r="3.45" fill="#e61100"/>
<circle cx="113.0" cy="130.7" r="3.45" fill="#e50700"/>
<circle cx="113.1" cy="126.2" r="3.45" fill="#e61100"/>
<circle cx="113.0" cy="121.7" r="3.45" fill="#e50c00"/>
<circle cx="112.9" cy="117.2" r="3.45" fill="#e50700"/>
<circle cx="112.8" cy="112.7" r="3.45" fill="#e50700"/>
<circle cx="112.6" cy="108.2" r="3.45" fill="#e50700"/>
<circle cx="112.4" cy="103.8" r="3.45" fill="#e50700"/>
<circle cx="112.4" cy="99.3" r="3.45" fill="#e61100"/>
<circle cx="112.4" cy="94.8" r="3.45" fill="#e50700"/>
<circle cx="112.5" cy="90.3" r="3.45" fill="#e50200"/>
<circle cx="112.7" cy="85.8" r="3.45" fill="#e50c00"/>
<circle cx="112.9" cy="81.3" r="3.45" fill="#e50700"/>
<circle cx="113.0" cy="76.8" r="3.45" fill="#e61100"/>
<circle cx="113.1" cy="72.3" r="3.45" fill="#e50c00"/>
<circle cx="113.0" cy="67.9" r="3.45" fill="#e50200"/>
<circle cx="112.8" cy="63.4" r="3.45" fill="#e61100"/>
<circle cx="112.7" cy="58.9" r="3.45" fill="#e50200"/>
<circle cx="112.5" cy="54.4" r="3.45" fill="#e61100"/>
<circle cx="119.0" cy="63.0" r="3.45" fill="#e50900"/>
<circle cx="119.0" cy="72.0" r="3.45" fill="#e50900"/>
<circle cx="119.0" cy="87.0" r="3.45" fill="#e50900"/>
<circle cx="119.0" cy="97.0" r="3.45" fill="#e50900"/>
<circle cx="119.0" cy="108.0" r="3.45" fill="#e50900"/>
<circle cx="119.0" cy="118.0" r="3.45" fill="#e83900"/>
<circle cx="119.0" cy="128.0" r="3.45" fill="#e83900"/>
<circle cx="119.0" cy="138.0" r="3.45" fill="#e83900"/>
<circle cx="119.0" cy="150.0" r="3.45" fill="#e83900"/>
<circle cx="119.0" cy="160.0" r="3.45" fill="#e83900"/>
<circle cx="125.1" cy="157.1" r="3.45" fill="#e62000"/>
<circle cx="125.3" cy="143.5" r="3.45" fill="#e61100"/>
<circle cx="125.2" cy="138.9" r="3.45" fill="#e50200"/>
<circle cx="124.9" cy="129.8" r="3.45" fill="#e50c00"/>
<circle cx="124.7" cy="120.7" r="3.45" fill="#e61100"/>
<circle cx="124.7" cy="116.2" r="3.45" fill="#e62000"/>
<circle cx="124.8" cy="111.6" r="3.45" fill="#e50700"/>
<circle cx="125.0" cy="107.1" r="3.45" fill="#e50200"/>
<circle cx="125.2" cy="102.5" r="3.45" fill="#e61100"/>
<circle cx="125.3" cy="98.0" r="3.45" fill="#e50700"/>
<circle cx="125.3" cy="93.5" r="3.45" fill="#e50700"/>
<circle cx="125.3" cy="88.9" r="3.45" fill="#e50c00"/>
<circle cx="125.1" cy="84.4" r="3.45" fill="#e61100"/>
<circle cx="124.9" cy="79.8" r="3.45" fill="#e61100"/>
<circle cx="131.9" cy="98.2" r="3.45" fill="#e61100"/>
<circle cx="132.0" cy="93.7" r="3.45" fill="#e50200"/>
<circle cx="131.9" cy="89.1" r="3.45" fill="#e50200"/>
<circle cx="131.8" cy="84.6" r="3.45" fill="#e50c00"/>
<circle cx="131.6" cy="80.1" r="3.45" fill="#e61100"/>
<circle cx="131.4" cy="75.5" r="3.45" fill="#e50c00"/>
<circle cx="131.3" cy="71.0" r="3.45" fill="#e50700"/>
<circle cx="131.3" cy="66.5" r="3.45" fill="#e50200"/>
<circle cx="131.3" cy="61.9" r="3.45" fill="#e61100"/>
<circle cx="131.5" cy="57.4" r="3.45" fill="#e50700"/>
<circle cx="137.3" cy="96.0" r="3.45" fill="#e50c00"/>
<circle cx="137.4" cy="91.5" r="3.45" fill="#e50700"/>
<circle cx="137.5" cy="87.1" r="3.45" fill="#e61100"/>
<circle cx="137.7" cy="82.7" r="3.45" fill="#e61100"/>
<circle cx="137.8" cy="78.2" r="3.45" fill="#e61100"/>
<circle cx="138.0" cy="73.8" r="3.45" fill="#e50c00"/>
<circle cx="138.0" cy="69.3" r="3.45" fill="#e50200"/>
<circle cx="138.0" cy="64.9" r="3.45" fill="#e61100"/>
<circle cx="137.9" cy="60.5" r="3.45" fill="#e61100"/>
<circle cx="137.7" cy="56.0" r="3.45" fill="#e50700"/>
<circle cx="143.5" cy="96.2" r="3.45" fill="#e61100"/>
<circle cx="143.7" cy="91.7" r="3.45" fill="#e61100"/>
<circle cx="143.9" cy="87.3" r="3.45" fill="#e62000"/>
<circle cx="144.0" cy="82.9" r="3.45" fill="#e50700"/>
<circle cx="144.0" cy="78.4" r="3.45" fill="#e50c00"/>
<circle cx="131.7" cy="153.7" r="3.45" fill="#e50c00"/>
<circle cx="132.0" cy="142.7" r="3.45" fill="#e50200"/>
<circle cx="132.0" cy="137.1" r="3.45" fill="#e84b00"/>
<circle cx="131.9" cy="131.6" r="3.45" fill="#e61100"/>
<circle cx="131.7" cy="126.1" r="3.45" fill="#e61100"/>
<circle cx="131.5" cy="120.5" r="3.45" fill="#e50200"/>
<circle cx="131.3" cy="115.0" r="3.45" fill="#e50700"/>
<circle cx="131.3" cy="109.5" r="3.45" fill="#e50c00"/>
<circle cx="131.3" cy="103.9" r="3.45" fill="#e50200"/>
<circle cx="137.7" cy="159.0" r="3.45" fill="#e62000"/>
<circle cx="137.9" cy="153.4" r="3.45" fill="#e72f00"/>
<circle cx="137.8" cy="131.2" r="3.45" fill="#e62000"/>
<circle cx="137.6" cy="125.6" r="3.45" fill="#e61100"/>
<circle cx="137.5" cy="120.0" r="3.45" fill="#e84b00"/>
<circle cx="137.4" cy="114.5" r="3.45" fill="#e50200"/>
<circle cx="137.4" cy="108.9" r="3.45" fill="#e50c00"/>
<circle cx="137.4" cy="103.3" r="3.45" fill="#e50c00"/>
<circle cx="143.4" cy="159.6" r="3.45" fill="#e72f00"/>
<circle cx="143.5" cy="154.1" r="3.45" fill="#e72f00"/>
<circle cx="143.7" cy="148.6" r="3.45" fill="#e62000"/>
<circle cx="143.9" cy="143.1" r="3.45" fill="#e50200"/>
<circle cx="144.0" cy="137.6" r="3.45" fill="#e50700"/>
<circle cx="144.0" cy="132.1" r="3.45" fill="#e50200"/>
<circle cx="143.7" cy="121.1" r="3.45" fill="#e59100"/>
<circle cx="143.4" cy="110.1" r="3.45" fill="#e50c00"/>
<circle cx="143.3" cy="104.6" r="3.45" fill="#e83e00"/>
<circle cx="107.0" cy="50.0" r="3.45" fill="#e50200"/>
<circle cx="108.5" cy="53.2" r="3.45" fill="#e50c00"/>
<circle cx="110.0" cy="50.0" r="3.45" fill="#e50c00"/>
<circle cx="111.5" cy="53.2" r="3.45" fill="#e50200"/>
<circle cx="113.1" cy="50.0" r="3.45" fill="#e50c00"/>
<circle cx="114.6" cy="53.2" r="3.45" fill="#e50700"/>
<circle cx="116.2" cy="50.0" r="3.45" fill="#e50c00"/>
<circle cx="117.7" cy="53.2" r="3.45" fill="#e50c00"/>
<circle cx="119.2" cy="50.0" r="3.45" fill="#e50c00"/>
<circle cx="120.7" cy="53.2" r="3.45" fill="#e50200"/>
<circle cx="122.2" cy="50.0" r="3.45" fill="#e61100"/>
<circle cx="123.8" cy="53.2" r="3.45" fill="#e50200"/>
<circle cx="125.3" cy="50.0" r="3.45" fill="#e50700"/>
<circle cx="126.8" cy="53.2" r="3.45" fill="#e50200"/>
<circle cx="128.3" cy="50.0" r="3.45" fill="#e61100"/>
<circle cx="129.8" cy="53.2" r="3.45" fill="#e61100"/>
<circle cx="131.4" cy="50.0" r="3.45" fill="#e50c00"/>
<circle cx="132.9" cy="53.2" r="3.45" fill="#e50200"/>
<circle cx="134.4" cy="50.0" r="3.45" fill="#e50c00"/>
<circle cx="135.9" cy="53.2" r="3.45" fill="#e50200"/>
<circle cx="137.5" cy="50.0" r="3.45" fill="#e50c00"/>
<circle cx="139.0" cy="53.2" r="3.45" fill="#e61100"/>
<circle cx="140.6" cy="50.0" r="3.45" fill="#e50700"/>
<circle cx="142.1" cy="53.2" r="3.45" fill="#e61100"/>
<circle cx="143.6" cy="50.0" r="3.45" fill="#e61100"/>
<circle cx="145.1" cy="53.2" r="3.45" fill="#e50200"/>
<circle cx="149.8" cy="98.2" r="3.45" fill="#e62000"/>
<circle cx="149.6" cy="92.7" r="3.45" fill="#e84b00"/>
<circle cx="149.4" cy="87.1" r="3.45" fill="#e50c00"/>
<circle cx="149.4" cy="81.6" r="3.45" fill="#e83e00"/>
<circle cx="149.4" cy="76.1" r="3.45" fill="#e50200"/>
<circle cx="149.5" cy="70.5" r="3.45" fill="#e50700"/>
<circle cx="149.7" cy="65.0" r="3.45" fill="#e50200"/>
<circle cx="155.6" cy="97.9" r="3.45" fill="#e50700"/>
<circle cx="155.6" cy="92.3" r="3.45" fill="#e61100"/>
<circle cx="155.6" cy="86.8" r="3.45" fill="#e84b00"/>
<circle cx="155.7" cy="81.2" r="3.45" fill="#e84b00"/>
<circle cx="156.0" cy="70.1" r="3.45" fill="#e50700"/>
<circle cx="156.2" cy="64.5" r="3.45" fill="#e50700"/>
<circle cx="156.2" cy="59.0" r="3.45" fill="#e50200"/>
<circle cx="156.2" cy="53.4" r="3.45" fill="#e61100"/>
<circle cx="162.2" cy="97.4" r="3.45" fill="#e84b00"/>
<circle cx="162.3" cy="91.8" r="3.45" fill="#e84b00"/>
<circle cx="162.3" cy="86.2" r="3.45" fill="#e61100"/>
<circle cx="162.2" cy="80.6" r="3.45" fill="#b7dc00"/>
<circle cx="162.1" cy="75.0" r="3.45" fill="#e61100"/>
<circle cx="161.9" cy="69.4" r="3.45" fill="#e61100"/>
<circle cx="161.7" cy="63.8" r="3.45" fill="#e84b00"/>
<circle cx="161.7" cy="58.2" r="3.45" fill="#e50200"/>
<circle cx="161.7" cy="52.6" r="3.45" fill="#e83e00"/>
<circle cx="149.9" cy="158.6" r="3.45" fill="#e84b00"/>
<circle cx="150.0" cy="152.9" r="3.45" fill="#e50200"/>
<circle cx="149.8" cy="136.0" r="3.45" fill="#e50700"/>
<circle cx="149.6" cy="130.4" r="3.45" fill="#e50c00"/>
<circle cx="149.4" cy="113.5" r="3.45" fill="#e50700"/>
<circle cx="149.5" cy="107.9" r="3.45" fill="#e83e00"/>
<circle cx="149.7" cy="102.2" r="3.45" fill="#e50c00"/>
<circle cx="156.0" cy="158.3" r="3.45" fill="#e61100"/>
<circle cx="156.2" cy="152.7" r="3.45" fill="#e72f00"/>
<circle cx="156.2" cy="147.0" r="3.45" fill="#e76400"/>
<circle cx="156.2" cy="141.3" r="3.45" fill="#e50c00"/>
<circle cx="156.1" cy="135.7" r="3.45" fill="#e50700"/>
<circle cx="155.9" cy="130.0" r="3.45" fill="#e62000"/>
<circle cx="155.7" cy="124.4" r="3.45" fill="#e84b00"/>
<circle cx="155.6" cy="118.7" r="3.45" fill="#e50200"/>
<circle cx="155.6" cy="113.0" r="3.45" fill="#e61100"/>
<circle cx="155.6" cy="107.4" r="3.45" fill="#e84b00"/>
<circle cx="162.3" cy="158.2" r="3.45" fill="#e61100"/>
<circle cx="162.3" cy="152.5" r="3.45" fill="#e62000"/>
<circle cx="162.3" cy="146.8" r="3.45" fill="#e83e00"/>
<circle cx="162.1" cy="141.1" r="3.45" fill="#e50c00"/>
<circle cx="161.9" cy="135.5" r="3.45" fill="#e50700"/>
<circle cx="161.7" cy="129.8" r="3.45" fill="#e61100"/>
<circle cx="161.7" cy="124.1" r="3.45" fill="#e62000"/>
<circle cx="161.7" cy="118.4" r="3.45" fill="#e62000"/>
<circle cx="161.8" cy="112.7" r="3.45" fill="#d4d800"/>
<circle cx="162.0" cy="107.0" r="3.45" fill="#e50700"/>
<circle cx="168.0" cy="98.2" r="3.45" fill="#e84b00"/>
<circle cx="168.1" cy="92.6" r="3.45" fill="#e76400"/>
<circle cx="168.3" cy="87.1" r="3.45" fill="#e50200"/>
<circle cx="168.5" cy="81.6" r="3.45" fill="#e50c00"/>
<circle cx="168.5" cy="76.0" r="3.45" fill="#e50200"/>
<circle cx="168.5" cy="70.5" r="3.45" fill="#e50c00"/>
<circle cx="168.4" cy="64.9" r="3.45" fill="#e61100"/>
<circle cx="168.2" cy="59.4" r="3.45" fill="#e50200"/>
<circle cx="168.0" cy="53.8" r="3.45" fill="#e72f00"/>
<circle cx="167.9" cy="154.0" r="3.45" fill="#dac800"/>
<circle cx="167.9" cy="148.5" r="3.45" fill="#e84b00"/>
<circle cx="168.1" cy="143.0" r="3.45" fill="#e67c00"/>
<circle cx="168.2" cy="137.5" r="3.45" fill="#e61100"/>
<circle cx="168.4" cy="132.0" r="3.45" fill="#b7dc00"/>
<circle cx="168.5" cy="126.5" r="3.45" fill="#e84b00"/>
<circle cx="168.5" cy="121.0" r="3.45" fill="#e50c00"/>
<circle cx="174.1" cy="154.0" r="3.45" fill="#e83e00"/>
<circle cx="174.1" cy="148.5" r="3.45" fill="#e84b00"/>
<circle cx="174.2" cy="143.0" r="3.45" fill="#e50c00"/>
<circle cx="174.4" cy="137.5" r="3.45" fill="#e50700"/>
<circle cx="174.6" cy="132.0" r="3.45" fill="#e72f00"/>
<circle cx="174.7" cy="126.5" r="3.45" fill="#e72f00"/>
<circle cx="155.6" cy="19.0" r="3.45" fill="#e50900"/>
<circle cx="162.0" cy="28.0" r="3.45" fill="#e83900"/>
<circle cx="162.0" cy="33.0" r="3.45" fill="#e83900"/>
<circle cx="149.0" cy="38.0" r="3.45" fill="#e62000"/>
<circle cx="149.0" cy="46.0" r="3.45" fill="#e61b00"/>
<circle cx="155.0" cy="44.0" r="3.45" fill="#e60e00"/>
<circle cx="162.0" cy="49.0" r="3.45" fill="#e62000"/>
<circle cx="143.9" cy="22.0" r="3.45" fill="#e50900"/>
<circle cx="143.9" cy="27.8" r="3.45" fill="#e50900"/>
<circle cx="143.9" cy="33.4" r="3.45" fill="#e50900"/>
<circle cx="155.2" cy="49.0" r="3.45" fill="#e72500"/>
<circle cx="149.0" cy="41.5" r="3.45" fill="#e61600"/>
<circle cx="167.2" cy="51.0" r="3.45" fill="#e60e00"/>
<circle cx="167.2" cy="25.0" r="3.45" fill="#e50900"/>
<circle cx="167.2" cy="31.0" r="3.45" fill="#e50900"/>
<circle cx="167.2" cy="38.0" r="3.45" fill="#e60e00"/>
<circle cx="167.2" cy="45.0" r="3.45" fill="#e60e00"/>
<circle cx="174.0" cy="96.6" r="3.45" fill="#e0b100"/>
<circle cx="180.0" cy="66.0" r="3.45" fill="#e73400"/>
<circle cx="173.0" cy="71.0" r="3.45" fill="#e60e00"/>
<circle cx="161.0" cy="130.0" r="3.45" fill="#e0b100"/>
<circle cx="168.0" cy="147.0" r="3.45" fill="#d6d300"/>
<circle cx="149.0" cy="149.0" r="3.45" fill="#b0dd00"/>
<circle cx="174.0" cy="126.0" r="3.45" fill="#e68700"/>
<circle cx="180.3" cy="117.0" r="3.45" fill="#a9de00"/>
<circle cx="174.6" cy="136.4" r="3.45" fill="#e67c00"/>
<circle cx="180.0" cy="136.4" r="3.45" fill="#e67c00"/>
<circle cx="180.3" cy="149.0" r="3.45" fill="#b0dd00"/>
<circle cx="149.0" cy="165.0" r="3.45" fill="#d8ce00"/>
<circle cx="186.7" cy="71.0" r="3.45" fill="#e50c00"/>
<circle cx="186.7" cy="86.0" r="3.45" fill="#e84b00"/>
<circle cx="186.7" cy="101.0" r="3.45" fill="#e72f00"/>
<circle cx="186.7" cy="110.0" r="3.45" fill="#e61100"/>
<circle cx="186.7" cy="121.0" r="3.45" fill="#e50200"/>
<circle cx="192.0" cy="53.0" r="3.45" fill="#e61100"/>
<circle cx="192.0" cy="58.0" r="3.45" fill="#e50700"/>
<circle cx="192.0" cy="65.0" r="3.45" fill="#e50c00"/>
<circle cx="192.0" cy="71.0" r="3.45" fill="#e61100"/>
<circle cx="192.0" cy="99.0" r="3.45" fill="#e50200"/>
<circle cx="192.0" cy="104.0" r="3.45" fill="#e50700"/>
<circle cx="192.0" cy="110.0" r="3.45" fill="#e62000"/>
<circle cx="192.0" cy="116.0" r="3.45" fill="#e72f00"/>
<circle cx="192.0" cy="122.0" r="3.45" fill="#e72f00"/>
<circle cx="192.0" cy="127.0" r="3.45" fill="#e50200"/>
<circle cx="199.0" cy="59.0" r="3.45" fill="#e50200"/>
<circle cx="199.0" cy="67.0" r="3.45" fill="#e50200"/>
<circle cx="199.0" cy="82.0" r="3.45" fill="#e83e00"/>
<circle cx="199.0" cy="89.0" r="3.45" fill="#e62000"/>
<circle cx="199.0" cy="99.0" r="3.45" fill="#e61100"/>
<circle cx="199.0" cy="104.0" r="3.45" fill="#e72f00"/>
<circle cx="199.0" cy="110.0" r="3.45" fill="#e62000"/>
<circle cx="199.0" cy="116.0" r="3.45" fill="#e59100"/>
<circle cx="199.0" cy="122.0" r="3.45" fill="#e83e00"/>
<circle cx="199.0" cy="128.0" r="3.45" fill="#e50700"/>
<circle cx="199.0" cy="133.0" r="3.45" fill="#e72f00"/>
<circle cx="205.0" cy="60.0" r="3.45" fill="#e50c00"/>
<circle cx="205.0" cy="66.0" r="3.45" fill="#e50200"/>
<circle cx="205.0" cy="74.0" r="3.45" fill="#e50c00"/>
<circle cx="205.0" cy="81.0" r="3.45" fill="#e67c00"/>
<circle cx="205.0" cy="89.0" r="3.45" fill="#e61100"/>
<circle cx="205.0" cy="99.0" r="3.45" fill="#e50200"/>
<circle cx="205.0" cy="104.0" r="3.45" fill="#e50200"/>
<circle cx="205.0" cy="110.0" r="3.45" fill="#e50200"/>
<circle cx="205.0" cy="116.0" r="3.45" fill="#e62000"/>
<circle cx="205.0" cy="122.0" r="3.45" fill="#e50700"/>
<circle cx="205.0" cy="128.0" r="3.45" fill="#e50200"/>
<circle cx="205.0" cy="133.0" r="3.45" fill="#e50c00"/>
<circle cx="205.0" cy="137.5" r="3.45" fill="#e62000"/>
<circle cx="211.0" cy="60.0" r="3.45" fill="#e50c00"/>
<circle cx="211.0" cy="108.0" r="3.45" fill="#e50200"/>
<circle cx="217.6" cy="85.0" r="3.45" fill="#e67c00"/>
<circle cx="217.6" cy="103.0" r="3.45" fill="#e72f00"/>
<circle cx="223.0" cy="53.6" r="3.45" fill="#e50700"/>
<circle cx="248.0" cy="59.8" r="3.45" fill="#e73400"/>
<circle cx="260.4" cy="51.0" r="3.45" fill="#e50700"/>
<circle cx="266.4" cy="55.8" r="3.45" fill="#e50700"/>
<circle cx="266.4" cy="17.0" r="3.45" fill="#e73400"/>
<circle cx="272.4" cy="28.0" r="3.45" fill="#e72f00"/>
<circle cx="272.4" cy="30.4" r="3.45" fill="#e72f00"/>
<circle cx="303.4" cy="26.0" r="3.45" fill="#e50700"/>
<circle cx="303.4" cy="39.6" r="3.45" fill="#e50700"/>
<circle cx="309.4" cy="42.0" r="3.45" fill="#e50700"/>
<circle cx="315.6" cy="55.8" r="3.45" fill="#e50700"/>
<circle cx="322.0" cy="55.8" r="3.45" fill="#e50700"/>
<circle cx="223.0" cy="67.0" r="3.45" fill="#e50700"/>
<circle cx="241.6" cy="71.4" r="3.45" fill="#e50700"/>
<circle cx="241.6" cy="85.4" r="3.45" fill="#e50700"/>
<circle cx="248.0" cy="85.4" r="3.45" fill="#e50700"/>
<circle cx="254.0" cy="87.4" r="3.45" fill="#e50700"/>
<circle cx="284.6" cy="87.4" r="3.45" fill="#e50700"/>
<circle cx="266.6" cy="96.4" r="3.45" fill="#e50700"/>
<circle cx="272.6" cy="105.0" r="3.45" fill="#e50700"/>
<circle cx="229.4" cy="103.4" r="3.45" fill="#e50700"/>
<circle cx="328.0" cy="78.4" r="3.45" fill="#e50700"/>
<circle cx="334.0" cy="85.4" r="3.45" fill="#e50700"/>
<circle cx="340.4" cy="101.4" r="3.45" fill="#e72f00"/>
<circle cx="260.4" cy="112.4" r="3.45" fill="#e50900"/>
<circle cx="272.6" cy="106.0" r="3.45" fill="#e50700"/>
<circle cx="272.6" cy="114.0" r="3.45" fill="#e50700"/>
<circle cx="278.6" cy="114.4" r="3.45" fill="#e50700"/>
<circle cx="290.6" cy="119.4" r="3.45" fill="#d6d300"/>
<circle cx="297.0" cy="119.4" r="3.45" fill="#e50700"/>
<circle cx="278.6" cy="128.4" r="3.45" fill="#e60e00"/>
<circle cx="291.0" cy="128.4" r="3.45" fill="#e50700"/>
<circle cx="297.0" cy="133.0" r="3.45" fill="#e73400"/>
<circle cx="297.4" cy="135.0" r="3.45" fill="#e73400"/>
<circle cx="303.4" cy="140.0" r="3.45" fill="#e50700"/>
<circle cx="309.4" cy="146.4" r="3.45" fill="#e50700"/>
<circle cx="322.0" cy="149.0" r="3.45" fill="#e73400"/>
<circle cx="328.0" cy="160.0" r="3.45" fill="#e50700"/>
<circle cx="334.0" cy="158.0" r="3.45" fill="#e50700"/>
<circle cx="328.0" cy="167.0" r="3.45" fill="#e50700"/>
<circle cx="328.0" cy="174.0" r="3.45" fill="#e50700"/>
<circle cx="334.0" cy="176.0" r="3.45" fill="#e50700"/>
<circle cx="340.4" cy="181.0" r="3.45" fill="#e49700"/>
<circle cx="297.0" cy="162.4" r="3.45" fill="#e50700"/>
<circle cx="303.0" cy="167.0" r="3.45" fill="#e50700"/>
<circle cx="303.0" cy="171.0" r="3.45" fill="#e50700"/>
<circle cx="309.0" cy="164.4" r="3.45" fill="#e72f00"/>
<circle cx="297.0" cy="153.0" r="3.45" fill="#e73400"/>
<circle cx="334.0" cy="155.6" r="3.45" fill="#e50700"/>
<circle cx="222.8" cy="122.8" r="3.45" fill="#e85200"/>
<circle cx="222.8" cy="133.0" r="3.45" fill="#e50900"/>
<circle cx="222.8" cy="143.3" r="3.45" fill="#e50900"/>
<circle cx="229.3" cy="169.6" r="3.45" fill="#e50700"/>
<circle cx="229.4" cy="163.9" r="3.45" fill="#e50700"/>
<circle cx="229.5" cy="158.2" r="3.45" fill="#e62000"/>
<circle cx="229.5" cy="152.6" r="3.45" fill="#e50200"/>
<circle cx="229.4" cy="146.9" r="3.45" fill="#e61100"/>
<circle cx="229.3" cy="141.2" r="3.45" fill="#e50200"/>
<circle cx="229.1" cy="135.5" r="3.45" fill="#e50c00"/>
<circle cx="228.9" cy="129.8" r="3.45" fill="#e50700"/>
<circle cx="228.9" cy="124.2" r="3.45" fill="#e50700"/>
<circle cx="228.9" cy="118.5" r="3.45" fill="#e62000"/>
<circle cx="229.0" cy="112.8" r="3.45" fill="#e50700"/>
<circle cx="229.2" cy="107.1" r="3.45" fill="#e50c00"/>
<circle cx="235.3" cy="165.1" r="3.45" fill="#e50700"/>
<circle cx="235.5" cy="159.6" r="3.45" fill="#e50700"/>
<circle cx="235.7" cy="154.1" r="3.45" fill="#e50700"/>
<circle cx="235.7" cy="148.6" r="3.45" fill="#e50c00"/>
<circle cx="235.7" cy="143.1" r="3.45" fill="#e50700"/>
<circle cx="235.6" cy="137.7" r="3.45" fill="#e62000"/>
<circle cx="235.4" cy="132.2" r="3.45" fill="#e50700"/>
<circle cx="235.2" cy="126.7" r="3.45" fill="#e50c00"/>
<circle cx="235.1" cy="121.2" r="3.45" fill="#e50700"/>
<circle cx="235.1" cy="115.7" r="3.45" fill="#e50c00"/>
<circle cx="241.3" cy="165.0" r="3.45" fill="#e84b00"/>
<circle cx="241.5" cy="159.5" r="3.45" fill="#e83e00"/>
<circle cx="241.7" cy="154.0" r="3.45" fill="#e84b00"/>
<circle cx="241.8" cy="148.6" r="3.45" fill="#e84b00"/>
<circle cx="241.8" cy="143.1" r="3.45" fill="#e84b00"/>
<circle cx="241.8" cy="137.6" r="3.45" fill="#e72f00"/>
<circle cx="241.6" cy="132.1" r="3.45" fill="#e84b00"/>
<circle cx="241.4" cy="126.6" r="3.45" fill="#e50200"/>
<circle cx="241.3" cy="121.1" r="3.45" fill="#e61100"/>
<circle cx="247.8" cy="169.9" r="3.45" fill="#e84b00"/>
<circle cx="248.0" cy="164.3" r="3.45" fill="#e50700"/>
<circle cx="248.0" cy="158.7" r="3.45" fill="#e62000"/>
<circle cx="248.0" cy="153.1" r="3.45" fill="#e62000"/>
<circle cx="247.9" cy="147.4" r="3.45" fill="#e72f00"/>
<circle cx="247.7" cy="141.8" r="3.45" fill="#e50700"/>
<circle cx="247.5" cy="136.2" r="3.45" fill="#e84b00"/>
<circle cx="247.4" cy="130.6" r="3.45" fill="#e50200"/>
<circle cx="247.4" cy="125.0" r="3.45" fill="#e50c00"/>
<circle cx="254.1" cy="170.3" r="3.45" fill="#e84b00"/>
<circle cx="254.0" cy="164.7" r="3.45" fill="#e50c00"/>
<circle cx="253.8" cy="159.2" r="3.45" fill="#e84b00"/>
<circle cx="253.6" cy="153.6" r="3.45" fill="#e67c00"/>
<circle cx="253.6" cy="148.1" r="3.45" fill="#e83e00"/>
<circle cx="253.6" cy="142.6" r="3.45" fill="#e83e00"/>
<circle cx="253.7" cy="137.0" r="3.45" fill="#e50700"/>
<circle cx="259.8" cy="169.6" r="3.45" fill="#e50200"/>
<circle cx="260.0" cy="163.9" r="3.45" fill="#e84b00"/>
<circle cx="260.2" cy="158.2" r="3.45" fill="#e50700"/>
<circle cx="260.3" cy="152.6" r="3.45" fill="#e84b00"/>
<circle cx="260.3" cy="146.9" r="3.45" fill="#e72f00"/>
<circle cx="260.3" cy="141.2" r="3.45" fill="#e72f00"/>
<circle cx="260.2" cy="135.5" r="3.45" fill="#e83e00"/>
<circle cx="266.4" cy="169.6" r="3.45" fill="#e50c00"/>
<circle cx="266.5" cy="163.9" r="3.45" fill="#e50c00"/>
<circle cx="266.5" cy="158.2" r="3.45" fill="#e50200"/>
<circle cx="266.4" cy="152.5" r="3.45" fill="#e50c00"/>
<circle cx="266.3" cy="146.8" r="3.45" fill="#e83e00"/>
<circle cx="266.1" cy="141.2" r="3.45" fill="#e83e00"/>
<circle cx="272.5" cy="170.0" r="3.45" fill="#e50c00"/>
<circle cx="272.3" cy="164.4" r="3.45" fill="#e72f00"/>
<circle cx="272.1" cy="158.8" r="3.45" fill="#e84b00"/>
<circle cx="272.1" cy="153.2" r="3.45" fill="#e84b00"/>
<circle cx="272.1" cy="147.6" r="3.45" fill="#e62000"/>
<circle cx="272.2" cy="142.0" r="3.45" fill="#e50c00"/>
<circle cx="278.9" cy="165.0" r="3.45" fill="#e61100"/>
<circle cx="278.9" cy="159.6" r="3.45" fill="#e62000"/>
<circle cx="278.8" cy="154.1" r="3.45" fill="#e50700"/>
<circle cx="278.6" cy="148.6" r="3.45" fill="#e61100"/>
<circle cx="284.5" cy="170.2" r="3.45" fill="#e50200"/>
<circle cx="284.4" cy="164.7" r="3.45" fill="#e61100"/>
<circle cx="284.4" cy="159.1" r="3.45" fill="#e50c00"/>
<circle cx="284.4" cy="153.5" r="3.45" fill="#e50200"/>
<circle cx="284.6" cy="148.0" r="3.45" fill="#e50200"/>
<circle cx="290.7" cy="165.3" r="3.45" fill="#e50200"/>
<circle cx="290.6" cy="159.9" r="3.45" fill="#e50700"/>
<circle cx="290.6" cy="154.4" r="3.45" fill="#e50700"/>
<circle cx="290.6" cy="149.0" r="3.45" fill="#e50c00"/>
<circle cx="137.4" cy="156.9" r="3.45" fill="#e67c00"/>
<circle cx="143.6" cy="162.6" r="3.45" fill="#d8ce00"/>
<circle cx="155.9" cy="159.5" r="3.45" fill="#b0dd00"/>
<circle cx="229.9" cy="163.2" r="3.45" fill="#e85200"/>
<circle cx="236.1" cy="164.2" r="3.45" fill="#b0dd00"/>
<circle cx="273.1" cy="169.9" r="3.45" fill="#e85200"/>
<circle cx="279.3" cy="164.2" r="3.45" fill="#e1a700"/>
<circle cx="285.5" cy="164.2" r="3.45" fill="#e1a700"/>
<circle cx="291.6" cy="166.9" r="3.45" fill="#e67c00"/>
</g>
<rect x="107.2" y="8" width="35.7" height="40" fill="#fff"/>
<rect x="167.6" y="8" width="37" height="41.5" fill="#fff"/>
<rect x="206" y="8" width="24" height="36" fill="#fff"/>
<rect x="123.35" y="42" width="3.3" height="157" fill="#333" fill-opacity="0.74"/>
<rect x="185.10" y="45" width="3.3" height="154" fill="#333" fill-opacity="0.74"/>
<rect x="215.95" y="41" width="3.3" height="158" fill="#333" fill-opacity="0.74"/>
<text class="ss" font-size="12" textLength="16.2" lengthAdjust="spacingAndGlyphs" transform="translate(129.9,38.2) rotate(-90)">HO</text>
<text class="ss" font-size="12" textLength="20.6" lengthAdjust="spacingAndGlyphs" transform="translate(191.7,42.4) rotate(-90)">TDc</text>
<text class="ss" font-size="12" textLength="14.8" lengthAdjust="spacingAndGlyphs" transform="translate(222.5,37.7) rotate(-90)">TO</text>
<g transform="translate(198.6,146.5)"><circle r="5.5" fill="#fff" stroke="#000" stroke-width="1.7"/><path d="M-2.6,-2.6L2.6,2.6M-2.6,2.6L2.6,-2.6" stroke="#000" stroke-width="1.5" fill="none"/></g>
<text x="28.6" y="201.4" font-size="10.3" textLength="5.1" lengthAdjust="spacingAndGlyphs" text-anchor="end">0</text>
<text x="28.6" y="155.8" font-size="10.3" textLength="10.2" lengthAdjust="spacingAndGlyphs" text-anchor="end">20</text>
<text x="28.6" y="110.2" font-size="10.3" textLength="10.2" lengthAdjust="spacingAndGlyphs" text-anchor="end">40</text>
<text x="28.6" y="64.6" font-size="10.3" textLength="10.2" lengthAdjust="spacingAndGlyphs" text-anchor="end">60</text>
<text x="28.6" y="19.0" font-size="10.3" textLength="10.2" lengthAdjust="spacingAndGlyphs" text-anchor="end">80</text>
<text x="32.5" y="212.6" font-size="10.3" textLength="5.1" lengthAdjust="spacingAndGlyphs" text-anchor="middle">0</text>
<text x="94.2" y="212.6" font-size="10.3" textLength="10.2" lengthAdjust="spacingAndGlyphs" text-anchor="middle">20</text>
<text x="155.9" y="212.6" font-size="10.3" textLength="10.2" lengthAdjust="spacingAndGlyphs" text-anchor="middle">40</text>
<text x="217.6" y="212.6" font-size="10.3" textLength="10.2" lengthAdjust="spacingAndGlyphs" text-anchor="middle">60</text>
<text x="279.3" y="212.6" font-size="10.3" textLength="10.2" lengthAdjust="spacingAndGlyphs" text-anchor="middle">80</text>
<text x="341.0" y="212.6" font-size="10.3" textLength="15.3" lengthAdjust="spacingAndGlyphs" text-anchor="middle">100</text>
<g transform="translate(138.8,226.8)"><text x="0.0" y="0.0" font-size="11.6" textLength="8.9" lengthAdjust="spacingAndGlyphs" font-style="italic">gc</text><text x="9.6" y="3.3" font-size="10.6" textLength="13.6" lengthAdjust="spacingAndGlyphs">off</text><text x="26.4" y="0.0" font-size="11.6" textLength="69.1" lengthAdjust="spacingAndGlyphs">(% gait cycle)</text></g>
<g transform="translate(10.5,154.2) rotate(-90)"><text x="0.0" y="0.0" font-size="11.6" textLength="4.0" lengthAdjust="spacingAndGlyphs" font-style="italic">t</text><text x="4.7" y="3.3" font-size="10.6" textLength="13.6" lengthAdjust="spacingAndGlyphs">off</text><text x="21.5" y="0.0" font-size="11.6" textLength="69.1" lengthAdjust="spacingAndGlyphs">(% gait cycle)</text></g>
</g>
<rect x="358" y="17" width="14.6" height="182.3" fill="url(#gs)" stroke="#222" stroke-width="0.6"/>
<text x="377.0" y="202.8" font-size="9.7" class="ss">0</text>
<line x1="370.6" x2="372.6" y1="162.8" y2="162.8" stroke="#222" stroke-width="0.6"/>
<text x="377.0" y="166.3" font-size="9.7" class="ss">20</text>
<line x1="370.6" x2="372.6" y1="126.4" y2="126.4" stroke="#222" stroke-width="0.6"/>
<text x="377.0" y="129.9" font-size="9.7" class="ss">40</text>
<line x1="370.6" x2="372.6" y1="89.9" y2="89.9" stroke="#222" stroke-width="0.6"/>
<text x="377.0" y="93.4" font-size="9.7" class="ss">60</text>
<line x1="370.6" x2="372.6" y1="53.5" y2="53.5" stroke="#222" stroke-width="0.6"/>
<text x="377.0" y="57.0" font-size="9.7" class="ss">80</text>
<text x="377.0" y="20.5" font-size="9.7" class="ss">100</text>
<g transform="translate(408.3,144.4) rotate(-90)"><text x="0.0" y="0.0" font-size="11.6" textLength="25.0" lengthAdjust="spacingAndGlyphs">Score</text><text x="27.3" y="0.0" font-size="11.6" textLength="14.5" lengthAdjust="spacingAndGlyphs">(%</text><text x="49.2" y="0.0" font-size="11.6" textLength="4.0" lengthAdjust="spacingAndGlyphs" font-style="italic">t</text><text x="54.6" y="3.3" font-size="10.6" textLength="15.5" lengthAdjust="spacingAndGlyphs">sim</text><text x="69.9" y="0.0" font-size="11.6">)</text></g>
<g>
<path d="M472.6,13.0H471V86.2" fill="none" stroke="#555" stroke-width="0.6"/>
<circle cx="471.0" cy="86.2" r="2.15" fill="#3f57e8"/>
<circle cx="474.2" cy="86.2" r="2.15" fill="#3e5eec"/>
<circle cx="477.4" cy="86.2" r="2.15" fill="#3e5aea"/>
<circle cx="480.6" cy="86.2" r="2.15" fill="#3e5eec"/>
<circle cx="483.8" cy="86.2" r="2.15" fill="#3e59e9"/>
<circle cx="486.9" cy="86.2" r="2.15" fill="#3e59e9"/>
<circle cx="490.1" cy="86.2" r="2.15" fill="#3f56e7"/>
<circle cx="493.3" cy="86.2" r="2.15" fill="#3f58e9"/>
<circle cx="496.5" cy="86.2" r="2.15" fill="#3f55e7"/>
<circle cx="499.7" cy="86.2" r="2.15" fill="#3f58e8"/>
<circle cx="502.9" cy="86.2" r="2.15" fill="#3e5bea"/>
<circle cx="506.1" cy="86.2" r="2.15" fill="#3f56e7"/>
<circle cx="509.3" cy="86.2" r="2.15" fill="#3f57e8"/>
<circle cx="512.4" cy="86.2" r="2.15" fill="#3e5eec"/>
<circle cx="515.6" cy="86.2" r="2.15" fill="#3e5bea"/>
<circle cx="518.8" cy="86.2" r="2.15" fill="#3e5bea"/>
<circle cx="522.0" cy="86.2" r="2.15" fill="#3f57e8"/>
<circle cx="525.2" cy="86.2" r="2.15" fill="#3e5eec"/>
<circle cx="528.4" cy="86.2" r="2.15" fill="#3f58e8"/>
<circle cx="531.6" cy="86.2" r="2.15" fill="#3f56e7"/>
<circle cx="534.8" cy="86.2" r="2.15" fill="#3e59e9"/>
<circle cx="537.9" cy="86.2" r="2.15" fill="#3e5bea"/>
<circle cx="541.1" cy="86.2" r="2.15" fill="#3e5bea"/>
<circle cx="544.3" cy="86.2" r="2.15" fill="#3f56e7"/>
<circle cx="547.5" cy="86.2" r="2.15" fill="#3e5dec"/>
<circle cx="550.7" cy="86.2" r="2.15" fill="#3f58e9"/>
<circle cx="553.9" cy="86.2" r="2.15" fill="#3e5fed"/>
<circle cx="557.1" cy="86.2" r="2.15" fill="#3e59e9"/>
<circle cx="560.3" cy="86.2" r="2.15" fill="#3f55e7"/>
<circle cx="563.5" cy="86.2" r="2.15" fill="#3f55e7"/>
<circle cx="566.6" cy="86.2" r="2.15" fill="#3e58e9"/>
<circle cx="569.8" cy="86.2" r="2.15" fill="#3e5ceb"/>
<circle cx="573.0" cy="86.2" r="2.15" fill="#3e5aea"/>
<circle cx="576.2" cy="86.2" r="2.15" fill="#3e5dec"/>
<circle cx="579.4" cy="86.2" r="2.15" fill="#3e5eec"/>
<circle cx="582.6" cy="86.2" r="2.15" fill="#3e5eec"/>
<circle cx="585.8" cy="86.2" r="2.15" fill="#3e5beb"/>
<circle cx="589.0" cy="86.2" r="2.15" fill="#3e5eec"/>
<circle cx="592.1" cy="86.2" r="2.15" fill="#3e5ceb"/>
<circle cx="595.3" cy="86.2" r="2.15" fill="#3f56e7"/>
<circle cx="598.5" cy="86.2" r="2.15" fill="#3f58e9"/>
<circle cx="601.7" cy="86.2" r="2.15" fill="#3f57e8"/>
<circle cx="604.9" cy="86.2" r="2.15" fill="#3f56e7"/>
<circle cx="608.1" cy="86.2" r="2.15" fill="#3e5eec"/>
<circle cx="611.3" cy="86.2" r="2.15" fill="#3e5aea"/>
<circle cx="614.5" cy="86.2" r="2.15" fill="#3f57e8"/>
<circle cx="617.6" cy="86.2" r="2.15" fill="#3e5dec"/>
<circle cx="620.8" cy="86.2" r="2.15" fill="#3e59e9"/>
<circle cx="624.0" cy="86.2" r="2.15" fill="#3f57e8"/>
<circle cx="627.2" cy="86.2" r="2.15" fill="#3e5ceb"/>
<circle cx="630.4" cy="86.2" r="2.15" fill="#3f56e8"/>
<circle cx="471.0" cy="82.6" r="2.15" fill="#3078e7"/>
<circle cx="475.8" cy="82.6" r="2.15" fill="#15a7bf"/>
<circle cx="504.5" cy="82.6" r="2.15" fill="#356fea"/>
<circle cx="507.7" cy="82.6" r="2.15" fill="#3c64ed"/>
<circle cx="510.9" cy="82.6" r="2.15" fill="#3f52e5"/>
<circle cx="514.0" cy="82.6" r="2.15" fill="#356fea"/>
<circle cx="517.2" cy="82.6" r="2.15" fill="#3176e8"/>
<circle cx="520.4" cy="82.6" r="2.15" fill="#3177e8"/>
<circle cx="523.6" cy="82.6" r="2.15" fill="#3a67ec"/>
<circle cx="526.8" cy="82.6" r="2.15" fill="#3e5fed"/>
<circle cx="530.0" cy="82.6" r="2.15" fill="#3968ec"/>
<circle cx="533.2" cy="82.6" r="2.15" fill="#3373e9"/>
<circle cx="536.4" cy="82.6" r="2.15" fill="#3372e9"/>
<circle cx="539.5" cy="82.6" r="2.15" fill="#3e59e9"/>
<circle cx="542.7" cy="82.6" r="2.15" fill="#3f54e6"/>
<circle cx="545.9" cy="82.6" r="2.15" fill="#376ceb"/>
<circle cx="549.1" cy="82.6" r="2.15" fill="#2e7be6"/>
<circle cx="552.3" cy="82.6" r="2.15" fill="#3274e8"/>
<circle cx="555.5" cy="82.6" r="2.15" fill="#3b64ed"/>
<circle cx="558.7" cy="82.6" r="2.15" fill="#3e59e9"/>
<circle cx="561.9" cy="82.6" r="2.15" fill="#3a66ec"/>
<circle cx="565.0" cy="82.6" r="2.15" fill="#3078e7"/>
<circle cx="568.2" cy="82.6" r="2.15" fill="#3373e9"/>
<circle cx="571.4" cy="82.6" r="2.15" fill="#3e5fed"/>
<circle cx="574.6" cy="82.6" r="2.15" fill="#3e59e9"/>
<circle cx="577.8" cy="82.6" r="2.15" fill="#366eea"/>
<circle cx="581.0" cy="82.6" r="2.15" fill="#2b81e5"/>
<circle cx="584.2" cy="82.6" r="2.15" fill="#2e7be6"/>
<circle cx="587.4" cy="82.6" r="2.15" fill="#3d61ee"/>
<circle cx="590.5" cy="82.6" r="2.15" fill="#3d61ee"/>
<circle cx="593.7" cy="82.6" r="2.15" fill="#366eea"/>
<circle cx="596.9" cy="82.6" r="2.15" fill="#3274e8"/>
<circle cx="600.1" cy="82.6" r="2.15" fill="#2f7ae7"/>
<circle cx="603.3" cy="82.6" r="2.15" fill="#3e5aea"/>
<circle cx="606.5" cy="82.6" r="2.15" fill="#3e5ceb"/>
<circle cx="609.7" cy="82.6" r="2.15" fill="#3a67ec"/>
<circle cx="612.9" cy="82.6" r="2.15" fill="#2c7ee6"/>
<circle cx="616.1" cy="82.6" r="2.15" fill="#2f79e7"/>
<circle cx="619.2" cy="82.6" r="2.15" fill="#3968ec"/>
<circle cx="622.4" cy="82.6" r="2.15" fill="#3d61ee"/>
<circle cx="625.6" cy="82.6" r="2.15" fill="#3968ec"/>
<circle cx="628.8" cy="82.6" r="2.15" fill="#3372e9"/>
<circle cx="471.0" cy="78.9" r="2.15" fill="#3078e7"/>
<circle cx="515.6" cy="78.9" r="2.15" fill="#248cde"/>
<circle cx="518.8" cy="78.9" r="2.15" fill="#3470ea"/>
<circle cx="522.0" cy="78.9" r="2.15" fill="#3c63ed"/>
<circle cx="525.2" cy="78.9" r="2.15" fill="#366dea"/>
<circle cx="528.4" cy="78.9" r="2.15" fill="#2983e4"/>
<circle cx="531.6" cy="78.9" r="2.15" fill="#2a83e4"/>
<circle cx="534.8" cy="78.9" r="2.15" fill="#2f79e7"/>
<circle cx="537.9" cy="78.9" r="2.15" fill="#13acb7"/>
<circle cx="541.1" cy="78.9" r="2.15" fill="#11b0af"/>
<circle cx="544.3" cy="78.9" r="2.15" fill="#b5b433"/>
<circle cx="547.5" cy="78.9" r="2.15" fill="#94ba46"/>
<circle cx="550.7" cy="78.9" r="2.15" fill="#2ab992"/>
<circle cx="553.9" cy="78.9" r="2.15" fill="#35bc87"/>
<circle cx="557.1" cy="78.9" r="2.15" fill="#2eba8e"/>
<circle cx="560.3" cy="78.9" r="2.15" fill="#25b798"/>
<circle cx="563.5" cy="78.9" r="2.15" fill="#3dbd80"/>
<circle cx="566.6" cy="78.9" r="2.15" fill="#30ba8c"/>
<circle cx="569.8" cy="78.9" r="2.15" fill="#356fea"/>
<circle cx="573.0" cy="78.9" r="2.15" fill="#3372e9"/>
<circle cx="576.2" cy="78.9" r="2.15" fill="#2a82e5"/>
<circle cx="579.4" cy="78.9" r="2.15" fill="#2886e2"/>
<circle cx="582.6" cy="78.9" r="2.15" fill="#3274e8"/>
<circle cx="585.8" cy="78.9" r="2.15" fill="#3c64ed"/>
<circle cx="589.0" cy="78.9" r="2.15" fill="#3176e8"/>
<circle cx="592.1" cy="78.9" r="2.15" fill="#2689df"/>
<circle cx="595.3" cy="78.9" r="2.15" fill="#258adf"/>
<circle cx="598.5" cy="78.9" r="2.15" fill="#2e7be6"/>
<circle cx="601.7" cy="78.9" r="2.15" fill="#386aeb"/>
<circle cx="604.9" cy="78.9" r="2.15" fill="#2d7ce6"/>
<circle cx="608.1" cy="78.9" r="2.15" fill="#2a82e4"/>
<circle cx="611.3" cy="78.9" r="2.15" fill="#258adf"/>
<circle cx="614.5" cy="78.9" r="2.15" fill="#2e7be6"/>
<circle cx="617.6" cy="78.9" r="2.15" fill="#3968ec"/>
<circle cx="620.8" cy="78.9" r="2.15" fill="#3373e9"/>
<circle cx="624.0" cy="78.9" r="2.15" fill="#2984e3"/>
<circle cx="627.2" cy="78.9" r="2.15" fill="#2a82e4"/>
<circle cx="630.4" cy="78.9" r="2.15" fill="#3471e9"/>
<circle cx="471.0" cy="75.3" r="2.15" fill="#3078e7"/>
<circle cx="514.0" cy="75.3" r="2.15" fill="#2c7ee6"/>
<circle cx="517.2" cy="75.3" r="2.15" fill="#2e7be7"/>
<circle cx="520.4" cy="75.3" r="2.15" fill="#2885e2"/>
<circle cx="523.6" cy="75.3" r="2.15" fill="#258adf"/>
<circle cx="526.8" cy="75.3" r="2.15" fill="#1f94d8"/>
<circle cx="530.0" cy="75.3" r="2.15" fill="#2a82e4"/>
<circle cx="533.2" cy="75.3" r="2.15" fill="#3175e8"/>
<circle cx="539.5" cy="75.3" r="2.15" fill="#11b1ae"/>
<circle cx="542.7" cy="75.3" r="2.15" fill="#11b0af"/>
<circle cx="545.9" cy="75.3" r="2.15" fill="#aeb537"/>
<circle cx="549.1" cy="75.3" r="2.15" fill="#bab330"/>
<circle cx="552.3" cy="75.3" r="2.15" fill="#e9da1e"/>
<circle cx="555.5" cy="75.3" r="2.15" fill="#e9da1e"/>
<circle cx="558.7" cy="75.3" r="2.15" fill="#e0b32f"/>
<circle cx="561.9" cy="75.3" r="2.15" fill="#e9da1e"/>
<circle cx="565.0" cy="75.3" r="2.15" fill="#e9da1e"/>
<circle cx="568.2" cy="75.3" r="2.15" fill="#2d7ee6"/>
<circle cx="571.4" cy="75.3" r="2.15" fill="#1d98d5"/>
<circle cx="574.6" cy="75.3" r="2.15" fill="#1e95d7"/>
<circle cx="577.8" cy="75.3" r="2.15" fill="#2a83e4"/>
<circle cx="581.0" cy="75.3" r="2.15" fill="#3274e8"/>
<circle cx="584.2" cy="75.3" r="2.15" fill="#2984e3"/>
<circle cx="587.4" cy="75.3" r="2.15" fill="#1d98d5"/>
<circle cx="590.5" cy="75.3" r="2.15" fill="#1b9ad3"/>
<circle cx="593.7" cy="75.3" r="2.15" fill="#2689df"/>
<circle cx="596.9" cy="75.3" r="2.15" fill="#2c7ee6"/>
<circle cx="600.1" cy="75.3" r="2.15" fill="#2c7ee6"/>
<circle cx="603.3" cy="75.3" r="2.15" fill="#238edc"/>
<circle cx="606.5" cy="75.3" r="2.15" fill="#1d97d5"/>
<circle cx="609.7" cy="75.3" r="2.15" fill="#2788e1"/>
<circle cx="612.9" cy="75.3" r="2.15" fill="#3274e8"/>
<circle cx="616.1" cy="75.3" r="2.15" fill="#2b80e5"/>
<circle cx="619.2" cy="75.3" r="2.15" fill="#248ddd"/>
<circle cx="622.4" cy="75.3" r="2.15" fill="#1d97d5"/>
<circle cx="625.6" cy="75.3" r="2.15" fill="#2886e2"/>
<circle cx="471.0" cy="71.7" r="2.15" fill="#3078e7"/>
<circle cx="515.6" cy="71.7" r="2.15" fill="#238ddd"/>
<circle cx="518.8" cy="71.7" r="2.15" fill="#1d98d5"/>
<circle cx="522.0" cy="71.7" r="2.15" fill="#1b9cd3"/>
<circle cx="525.2" cy="71.7" r="2.15" fill="#238edc"/>
<circle cx="528.4" cy="71.7" r="2.15" fill="#2885e2"/>
<circle cx="531.6" cy="71.7" r="2.15" fill="#238edc"/>
<circle cx="537.9" cy="71.7" r="2.15" fill="#6abd61"/>
<circle cx="541.1" cy="71.7" r="2.15" fill="#7dbe54"/>
<circle cx="544.3" cy="71.7" r="2.15" fill="#e5b431"/>
<circle cx="547.5" cy="71.7" r="2.15" fill="#dbb22d"/>
<circle cx="550.7" cy="71.7" r="2.15" fill="#e9da1e"/>
<circle cx="553.9" cy="71.7" r="2.15" fill="#e9da1e"/>
<circle cx="557.1" cy="71.7" r="2.15" fill="#e9da1e"/>
<circle cx="560.3" cy="71.7" r="2.15" fill="#e9da1e"/>
<circle cx="563.5" cy="71.7" r="2.15" fill="#e0b32f"/>
<circle cx="566.6" cy="71.7" r="2.15" fill="#e9da1e"/>
<circle cx="569.8" cy="71.7" r="2.15" fill="#17a2c9"/>
<circle cx="573.0" cy="71.7" r="2.15" fill="#1b9bd3"/>
<circle cx="576.2" cy="71.7" r="2.15" fill="#2787e1"/>
<circle cx="579.4" cy="71.7" r="2.15" fill="#1f94d8"/>
<circle cx="582.6" cy="71.7" r="2.15" fill="#17a3c8"/>
<circle cx="585.8" cy="71.7" r="2.15" fill="#199ed1"/>
<circle cx="589.0" cy="71.7" r="2.15" fill="#1f94d8"/>
<circle cx="592.1" cy="71.7" r="2.15" fill="#2885e2"/>
<circle cx="595.3" cy="71.7" r="2.15" fill="#2093d9"/>
<circle cx="598.5" cy="71.7" r="2.15" fill="#17a2c9"/>
<circle cx="601.7" cy="71.7" r="2.15" fill="#16a4c5"/>
<circle cx="604.9" cy="71.7" r="2.15" fill="#1b9bd3"/>
<circle cx="608.1" cy="71.7" r="2.15" fill="#85bd4e"/>
<circle cx="611.3" cy="71.7" r="2.15" fill="#b0b536"/>
<circle cx="614.5" cy="71.7" r="2.15" fill="#5fbd68"/>
<circle cx="617.6" cy="71.7" r="2.15" fill="#199ed1"/>
<circle cx="620.8" cy="71.7" r="2.15" fill="#1c99d4"/>
<circle cx="471.0" cy="68.1" r="2.15" fill="#3078e7"/>
<circle cx="517.2" cy="68.1" r="2.15" fill="#18a1cb"/>
<circle cx="520.4" cy="68.1" r="2.15" fill="#18a1cb"/>
<circle cx="523.6" cy="68.1" r="2.15" fill="#258adf"/>
<circle cx="526.8" cy="68.1" r="2.15" fill="#238ddd"/>
<circle cx="539.5" cy="68.1" r="2.15" fill="#6abd61"/>
<circle cx="542.7" cy="68.1" r="2.15" fill="#89bc4c"/>
<circle cx="545.9" cy="68.1" r="2.15" fill="#dcb22d"/>
<circle cx="549.1" cy="68.1" r="2.15" fill="#deb32e"/>
<circle cx="552.3" cy="68.1" r="2.15" fill="#e9da1e"/>
<circle cx="555.5" cy="68.1" r="2.15" fill="#e9da1e"/>
<circle cx="558.7" cy="68.1" r="2.15" fill="#e0b32f"/>
<circle cx="561.9" cy="68.1" r="2.15" fill="#e9da1e"/>
<circle cx="565.0" cy="68.1" r="2.15" fill="#e9da1e"/>
<circle cx="568.2" cy="68.1" r="2.15" fill="#18a1cb"/>
<circle cx="571.4" cy="68.1" r="2.15" fill="#1a9cd2"/>
<circle cx="574.6" cy="68.1" r="2.15" fill="#1b9bd3"/>
<circle cx="577.8" cy="68.1" r="2.15" fill="#16a5c3"/>
<circle cx="581.0" cy="68.1" r="2.15" fill="#14a9bd"/>
<circle cx="584.2" cy="68.1" r="2.15" fill="#17a3c8"/>
<circle cx="587.4" cy="68.1" r="2.15" fill="#1e95d7"/>
<circle cx="590.5" cy="68.1" r="2.15" fill="#1f94d8"/>
<circle cx="593.7" cy="68.1" r="2.15" fill="#17a3c8"/>
<circle cx="596.9" cy="68.1" r="2.15" fill="#14a9bc"/>
<circle cx="600.1" cy="68.1" r="2.15" fill="#17a3c8"/>
<circle cx="603.3" cy="68.1" r="2.15" fill="#1d98d5"/>
<circle cx="606.5" cy="68.1" r="2.15" fill="#9eb940"/>
<circle cx="609.7" cy="68.1" r="2.15" fill="#47bd79"/>
<circle cx="612.9" cy="68.1" r="2.15" fill="#48bd78"/>
<circle cx="616.1" cy="68.1" r="2.15" fill="#aeb537"/>
<circle cx="471.0" cy="64.4" r="2.15" fill="#3078e7"/>
<circle cx="515.6" cy="64.4" r="2.15" fill="#16a5c4"/>
<circle cx="522.0" cy="64.4" r="2.15" fill="#1e97d6"/>
<circle cx="525.2" cy="64.4" r="2.15" fill="#16a6c3"/>
<circle cx="537.9" cy="64.4" r="2.15" fill="#80be51"/>
<circle cx="541.1" cy="64.4" r="2.15" fill="#7cbe54"/>
<circle cx="544.3" cy="64.4" r="2.15" fill="#e8b533"/>
<circle cx="547.5" cy="64.4" r="2.15" fill="#dab22c"/>
<circle cx="550.7" cy="64.4" r="2.15" fill="#e9da1e"/>
<circle cx="553.9" cy="64.4" r="2.15" fill="#e9da1e"/>
<circle cx="557.1" cy="64.4" r="2.15" fill="#e9da1e"/>
<circle cx="560.3" cy="64.4" r="2.15" fill="#e9da1e"/>
<circle cx="563.5" cy="64.4" r="2.15" fill="#e0b32f"/>
<circle cx="566.6" cy="64.4" r="2.15" fill="#e9da1e"/>
<circle cx="569.8" cy="64.4" r="2.15" fill="#199fd0"/>
<circle cx="573.0" cy="64.4" r="2.15" fill="#13acb7"/>
<circle cx="576.2" cy="64.4" r="2.15" fill="#11b1ae"/>
<circle cx="579.4" cy="64.4" r="2.15" fill="#11b1ae"/>
<circle cx="582.6" cy="64.4" r="2.15" fill="#1fb59f"/>
<circle cx="585.8" cy="64.4" r="2.15" fill="#21b69c"/>
<circle cx="589.0" cy="64.4" r="2.15" fill="#12aeb3"/>
<circle cx="592.1" cy="64.4" r="2.15" fill="#11b1ae"/>
<circle cx="595.3" cy="64.4" r="2.15" fill="#13acb6"/>
<circle cx="598.5" cy="64.4" r="2.15" fill="#17a2c8"/>
<circle cx="601.7" cy="64.4" r="2.15" fill="#17a4c6"/>
<circle cx="539.5" cy="60.8" r="2.15" fill="#e2b330"/>
<circle cx="542.7" cy="60.8" r="2.15" fill="#dfb32e"/>
<circle cx="545.9" cy="60.8" r="2.15" fill="#e7b432"/>
<circle cx="549.1" cy="60.8" r="2.15" fill="#e2b430"/>
<circle cx="552.3" cy="60.8" r="2.15" fill="#e9da1e"/>
<circle cx="555.5" cy="60.8" r="2.15" fill="#e9da1e"/>
<circle cx="558.7" cy="60.8" r="2.15" fill="#e0b32f"/>
<circle cx="561.9" cy="60.8" r="2.15" fill="#e0b32f"/>
<circle cx="565.0" cy="60.8" r="2.15" fill="#e0b32f"/>
<circle cx="568.2" cy="60.8" r="2.15" fill="#1cb4a1"/>
<circle cx="571.4" cy="60.8" r="2.15" fill="#1cb4a1"/>
<circle cx="574.6" cy="60.8" r="2.15" fill="#1eb5a0"/>
<circle cx="577.8" cy="60.8" r="2.15" fill="#15b2a9"/>
<circle cx="581.0" cy="60.8" r="2.15" fill="#19b3a5"/>
<circle cx="537.9" cy="57.2" r="2.15" fill="#e3b430"/>
<circle cx="541.1" cy="57.2" r="2.15" fill="#ecb535"/>
<circle cx="544.3" cy="57.2" r="2.15" fill="#e4b431"/>
<circle cx="547.5" cy="57.2" r="2.15" fill="#ddb32d"/>
<circle cx="550.7" cy="57.2" r="2.15" fill="#e9da1e"/>
<circle cx="553.9" cy="57.2" r="2.15" fill="#e9da1e"/>
<circle cx="557.1" cy="57.2" r="2.15" fill="#e0b32f"/>
<circle cx="560.3" cy="57.2" r="2.15" fill="#e9da1e"/>
<circle cx="563.5" cy="57.2" r="2.15" fill="#e9da1e"/>
<circle cx="566.6" cy="57.2" r="2.15" fill="#e9da1e"/>
<circle cx="569.8" cy="57.2" r="2.15" fill="#1cb4a1"/>
<circle cx="573.0" cy="57.2" r="2.15" fill="#1db4a1"/>
<circle cx="576.2" cy="57.2" r="2.15" fill="#20b69d"/>
<circle cx="549.1" cy="53.5" r="2.15" fill="#ddb32d"/>
<circle cx="552.3" cy="53.5" r="2.15" fill="#e0b32f"/>
<circle cx="555.5" cy="53.5" r="2.15" fill="#e0b32f"/>
<circle cx="558.7" cy="53.5" r="2.15" fill="#e0b32f"/>
<circle cx="561.9" cy="53.5" r="2.15" fill="#e9da1e"/>
<circle cx="565.0" cy="53.5" r="2.15" fill="#e0b32f"/>
<circle cx="568.2" cy="53.5" r="2.15" fill="#d9b22c"/>
<circle cx="571.4" cy="53.5" r="2.15" fill="#d9b22c"/>
<circle cx="547.5" cy="49.9" r="2.15" fill="#dfb32e"/>
<circle cx="550.7" cy="49.9" r="2.15" fill="#e0b32f"/>
<circle cx="553.9" cy="49.9" r="2.15" fill="#e9da1e"/>
<circle cx="557.1" cy="49.9" r="2.15" fill="#e9da1e"/>
<circle cx="560.3" cy="49.9" r="2.15" fill="#e9da1e"/>
<circle cx="563.5" cy="49.9" r="2.15" fill="#e0b32f"/>
<circle cx="566.6" cy="49.9" r="2.15" fill="#e9da1e"/>
<circle cx="569.8" cy="49.9" r="2.15" fill="#d9b22c"/>
<circle cx="549.1" cy="46.3" r="2.15" fill="#e3b430"/>
<circle cx="552.3" cy="46.3" r="2.15" fill="#e9da1e"/>
<circle cx="555.5" cy="46.3" r="2.15" fill="#e9da1e"/>
<circle cx="558.7" cy="46.3" r="2.15" fill="#e9da1e"/>
<circle cx="493.0" cy="70.0" r="2.15" fill="#dedede"/>
<circle cx="499.6" cy="72.0" r="2.15" fill="#e4e4e4"/>
<circle cx="512.4" cy="71.4" r="2.15" fill="#2a1f9c"/>
<circle cx="627.4" cy="70.0" r="2.15" fill="#dedede"/>
<circle cx="547.1" cy="26.3" r="2.15" fill="#d9b22c"/>
<circle cx="551.3" cy="25.7" r="2.15" fill="#1c99d5"/>
<circle cx="548.0" cy="30.2" r="2.15" fill="#d9b22c"/>
<circle cx="552.8" cy="32.0" r="2.15" fill="#d9b22c"/>
<circle cx="550.0" cy="34.5" r="2.15" fill="#d9b22c"/>
<circle cx="555.6" cy="35.8" r="2.15" fill="#d9b22c"/>
<circle cx="553.0" cy="38.5" r="2.15" fill="#e9d521"/>
<circle cx="558.5" cy="37.7" r="2.15" fill="#d9b22c"/>
<circle cx="556.0" cy="41.5" r="2.15" fill="#e9d521"/>
<circle cx="560.5" cy="41.0" r="2.15" fill="#d9b22c"/>
<circle cx="553.5" cy="43.0" r="2.15" fill="#d9b22c"/>
<circle cx="562.0" cy="44.5" r="2.15" fill="#d9b22c"/>
<circle cx="565.0" cy="47.0" r="2.15" fill="#d9b22c"/>
<circle cx="570.3" cy="49.5" r="2.15" fill="#d9b22c"/>
<circle cx="573.5" cy="55.2" r="2.15" fill="#38bd84"/>
<rect x="517.67" y="35.0" width="2.3" height="52.0" fill="#333" fill-opacity="0.8"/>
<rect x="549.55" y="36.4" width="2.3" height="50.6" fill="#333" fill-opacity="0.8"/>
<rect x="565.49" y="34.4" width="2.3" height="52.6" fill="#333" fill-opacity="0.8"/>
<text class="ss" font-size="10.3" textLength="13.7" lengthAdjust="spacingAndGlyphs" transform="translate(522.6,31.4) rotate(-90)">HO</text>
<text class="ss" font-size="10.3" textLength="18.1" lengthAdjust="spacingAndGlyphs" transform="translate(554.5,35.8) rotate(-90)">TDc</text>
<text class="ss" font-size="10.3" textLength="12.3" lengthAdjust="spacingAndGlyphs" transform="translate(570.4,30.0) rotate(-90)">TO</text>
<g><text x="498.0" y="9.2" font-size="10" textLength="40.0" lengthAdjust="spacingAndGlyphs">Reference</text><text x="540.3" y="9.2" font-size="10" font-style="italic">v&#772;</text><text x="545.6" y="11.2" font-size="7" font-style="italic">x</text><text x="554.0" y="9.2" font-size="10" textLength="7.6" lengthAdjust="spacingAndGlyphs">=</text><text x="566.8" y="9.2" font-size="10" textLength="18.0" lengthAdjust="spacingAndGlyphs">1.27</text><text x="587.6" y="9.2" font-size="10" textLength="16.4" lengthAdjust="spacingAndGlyphs" font-style="italic">m/s</text></g>
<text x="468.4" y="88.9" font-size="7.8" text-anchor="end">0</text>
<text x="468.4" y="52.6" font-size="7.8" text-anchor="end">20</text>
<text x="468.4" y="16.3" font-size="7.8" text-anchor="end">40</text>
<text x="471.0" y="96.5" font-size="7.8" text-anchor="middle">0</text>
<text x="502.9" y="96.5" font-size="7.8" text-anchor="middle">20</text>
<text x="534.8" y="96.5" font-size="7.8" text-anchor="middle">40</text>
<text x="566.6" y="96.5" font-size="7.8" text-anchor="middle">60</text>
<text x="598.5" y="96.5" font-size="7.8" text-anchor="middle">80</text>
<text x="630.4" y="96.5" font-size="7.8" text-anchor="middle">100</text>
<rect x="645.4" y="13.6" width="12.4" height="72.8" fill="url(#gp)" stroke="#222" stroke-width="0.6"/>
<line x1="656.0" x2="657.8" y1="16" y2="16" stroke="#222" stroke-width="0.5"/>
<text x="660.8" y="18.8" font-size="7.8" class="ss">10</text>
<line x1="656.0" x2="657.8" y1="41" y2="41" stroke="#222" stroke-width="0.5"/>
<text x="660.8" y="43.8" font-size="7.8" class="ss">5</text>
<line x1="656.0" x2="657.8" y1="65.6" y2="65.6" stroke="#222" stroke-width="0.5"/>
<text x="660.8" y="68.4" font-size="7.8" class="ss">0</text>
<g transform="translate(680.2,68.5) rotate(-90)"><text x="0.0" y="0.0" font-size="10">&#916;</text><text x="9.2" y="0.0" font-size="10" font-style="italic">v&#772;</text><text x="14.4" y="2.0" font-size="7" font-style="italic">x</text><text x="20.5" y="0.0" font-size="10" textLength="14.5" lengthAdjust="spacingAndGlyphs">(%)</text></g>
</g>
<g>
<path d="M472.6,134.4H471V207.2" fill="none" stroke="#555" stroke-width="0.6"/>
<circle cx="471.0" cy="207.2" r="2.15" fill="#12afb1"/>
<circle cx="474.2" cy="207.2" r="2.15" fill="#12adb5"/>
<circle cx="477.3" cy="207.2" r="2.15" fill="#11b0af"/>
<circle cx="480.5" cy="207.2" r="2.15" fill="#11b0af"/>
<circle cx="483.6" cy="207.2" r="2.15" fill="#12adb5"/>
<circle cx="486.8" cy="207.2" r="2.15" fill="#12aeb3"/>
<circle cx="490.0" cy="207.2" r="2.15" fill="#11b0b0"/>
<circle cx="493.1" cy="207.2" r="2.15" fill="#13adb6"/>
<circle cx="496.3" cy="207.2" r="2.15" fill="#12aeb4"/>
<circle cx="499.5" cy="207.2" r="2.15" fill="#12afb2"/>
<circle cx="502.6" cy="207.2" r="2.15" fill="#12aeb4"/>
<circle cx="505.8" cy="207.2" r="2.15" fill="#11b1ad"/>
<circle cx="508.9" cy="207.2" r="2.15" fill="#12adb5"/>
<circle cx="512.1" cy="207.2" r="2.15" fill="#12aeb3"/>
<circle cx="515.3" cy="207.2" r="2.15" fill="#11b0ae"/>
<circle cx="518.4" cy="207.2" r="2.15" fill="#13abb8"/>
<circle cx="521.6" cy="207.2" r="2.15" fill="#12adb4"/>
<circle cx="524.8" cy="207.2" r="2.15" fill="#13acb6"/>
<circle cx="527.9" cy="207.2" r="2.15" fill="#12afb2"/>
<circle cx="531.1" cy="207.2" r="2.15" fill="#12b1ac"/>
<circle cx="534.2" cy="207.2" r="2.15" fill="#12aeb4"/>
<circle cx="537.4" cy="207.2" r="2.15" fill="#12b1ad"/>
<circle cx="540.6" cy="207.2" r="2.15" fill="#13acb6"/>
<circle cx="543.7" cy="207.2" r="2.15" fill="#12b1ac"/>
<circle cx="546.9" cy="207.2" r="2.15" fill="#12adb4"/>
<circle cx="550.0" cy="207.2" r="2.15" fill="#12adb4"/>
<circle cx="553.2" cy="207.2" r="2.15" fill="#12adb5"/>
<circle cx="556.4" cy="207.2" r="2.15" fill="#11b1ae"/>
<circle cx="559.5" cy="207.2" r="2.15" fill="#13adb6"/>
<circle cx="562.7" cy="207.2" r="2.15" fill="#13abb8"/>
<circle cx="565.9" cy="207.2" r="2.15" fill="#13abb8"/>
<circle cx="569.0" cy="207.2" r="2.15" fill="#12afb2"/>
<circle cx="572.2" cy="207.2" r="2.15" fill="#11afb1"/>
<circle cx="575.3" cy="207.2" r="2.15" fill="#12adb4"/>
<circle cx="578.5" cy="207.2" r="2.15" fill="#11afb0"/>
<circle cx="581.7" cy="207.2" r="2.15" fill="#12aeb2"/>
<circle cx="584.8" cy="207.2" r="2.15" fill="#11b1ae"/>
<circle cx="588.0" cy="207.2" r="2.15" fill="#12adb4"/>
<circle cx="591.2" cy="207.2" r="2.15" fill="#11b0af"/>
<circle cx="594.3" cy="207.2" r="2.15" fill="#12afb2"/>
<circle cx="597.5" cy="207.2" r="2.15" fill="#13b1ac"/>
<circle cx="600.6" cy="207.2" r="2.15" fill="#11b0b0"/>
<circle cx="603.8" cy="207.2" r="2.15" fill="#12b1ad"/>
<circle cx="607.0" cy="207.2" r="2.15" fill="#12aeb3"/>
<circle cx="610.1" cy="207.2" r="2.15" fill="#11afb0"/>
<circle cx="613.3" cy="207.2" r="2.15" fill="#13acb7"/>
<circle cx="616.5" cy="207.2" r="2.15" fill="#13acb6"/>
<circle cx="619.6" cy="207.2" r="2.15" fill="#11afb1"/>
<circle cx="622.8" cy="207.2" r="2.15" fill="#12adb5"/>
<circle cx="625.9" cy="207.2" r="2.15" fill="#11b1ae"/>
<circle cx="629.1" cy="207.2" r="2.15" fill="#13acb7"/>
<circle cx="471.0" cy="203.6" r="2.15" fill="#11b1ae"/>
<circle cx="475.7" cy="203.6" r="2.15" fill="#12b1ad"/>
<circle cx="504.2" cy="203.6" r="2.15" fill="#13b1ac"/>
<circle cx="507.4" cy="203.6" r="2.15" fill="#12adb5"/>
<circle cx="510.5" cy="203.6" r="2.15" fill="#11afb1"/>
<circle cx="513.7" cy="203.6" r="2.15" fill="#11afb1"/>
<circle cx="516.8" cy="203.6" r="2.15" fill="#11b0b0"/>
<circle cx="520.0" cy="203.6" r="2.15" fill="#12aeb3"/>
<circle cx="523.2" cy="203.6" r="2.15" fill="#13acb7"/>
<circle cx="526.3" cy="203.6" r="2.15" fill="#12aeb3"/>
<circle cx="529.5" cy="203.6" r="2.15" fill="#12afb2"/>
<circle cx="532.7" cy="203.6" r="2.15" fill="#13acb7"/>
<circle cx="535.8" cy="203.6" r="2.15" fill="#12aeb3"/>
<circle cx="539.0" cy="203.6" r="2.15" fill="#13b1ac"/>
<circle cx="542.1" cy="203.6" r="2.15" fill="#13acb7"/>
<circle cx="545.3" cy="203.6" r="2.15" fill="#11b1ae"/>
<circle cx="548.5" cy="203.6" r="2.15" fill="#12adb5"/>
<circle cx="551.6" cy="203.6" r="2.15" fill="#11afb1"/>
<circle cx="554.8" cy="203.6" r="2.15" fill="#13acb7"/>
<circle cx="558.0" cy="203.6" r="2.15" fill="#11b1ae"/>
<circle cx="561.1" cy="203.6" r="2.15" fill="#11b0b0"/>
<circle cx="564.3" cy="203.6" r="2.15" fill="#12adb5"/>
<circle cx="567.4" cy="203.6" r="2.15" fill="#12adb4"/>
<circle cx="570.6" cy="203.6" r="2.15" fill="#12adb4"/>
<circle cx="573.8" cy="203.6" r="2.15" fill="#12afb2"/>
<circle cx="576.9" cy="203.6" r="2.15" fill="#12afb1"/>
<circle cx="580.1" cy="203.6" r="2.15" fill="#11afb0"/>
<circle cx="583.3" cy="203.6" r="2.15" fill="#13abb8"/>
<circle cx="586.4" cy="203.6" r="2.15" fill="#11b0af"/>
<circle cx="589.6" cy="203.6" r="2.15" fill="#13b1ac"/>
<circle cx="592.7" cy="203.6" r="2.15" fill="#12aeb4"/>
<circle cx="595.9" cy="203.6" r="2.15" fill="#12adb5"/>
<circle cx="599.1" cy="203.6" r="2.15" fill="#12afb2"/>
<circle cx="602.2" cy="203.6" r="2.15" fill="#11b0af"/>
<circle cx="605.4" cy="203.6" r="2.15" fill="#12aeb3"/>
<circle cx="608.5" cy="203.6" r="2.15" fill="#12aeb4"/>
<circle cx="611.7" cy="203.6" r="2.15" fill="#13adb6"/>
<circle cx="614.9" cy="203.6" r="2.15" fill="#11b0ae"/>
<circle cx="618.0" cy="203.6" r="2.15" fill="#12adb4"/>
<circle cx="621.2" cy="203.6" r="2.15" fill="#12b1ac"/>
<circle cx="624.4" cy="203.6" r="2.15" fill="#11afb1"/>
<circle cx="627.5" cy="203.6" r="2.15" fill="#13adb5"/>
<circle cx="471.0" cy="199.9" r="2.15" fill="#12adb4"/>
<circle cx="515.3" cy="199.9" r="2.15" fill="#12b1ac"/>
<circle cx="518.4" cy="199.9" r="2.15" fill="#11b1ad"/>
<circle cx="521.6" cy="199.9" r="2.15" fill="#12b1ac"/>
<circle cx="524.8" cy="199.9" r="2.15" fill="#13abb8"/>
<circle cx="527.9" cy="199.9" r="2.15" fill="#12adb5"/>
<circle cx="531.1" cy="199.9" r="2.15" fill="#11b1ad"/>
<circle cx="534.2" cy="199.9" r="2.15" fill="#17b3a8"/>
<circle cx="537.4" cy="199.9" r="2.15" fill="#1bb4a3"/>
<circle cx="540.6" cy="199.9" r="2.15" fill="#17b3a7"/>
<circle cx="543.7" cy="199.9" r="2.15" fill="#1db4a1"/>
<circle cx="546.9" cy="199.9" r="2.15" fill="#19b3a5"/>
<circle cx="550.0" cy="199.9" r="2.15" fill="#29b894"/>
<circle cx="553.2" cy="199.9" r="2.15" fill="#27b896"/>
<circle cx="556.4" cy="199.9" r="2.15" fill="#21b69c"/>
<circle cx="559.5" cy="199.9" r="2.15" fill="#22b69c"/>
<circle cx="562.7" cy="199.9" r="2.15" fill="#19b3a5"/>
<circle cx="565.9" cy="199.9" r="2.15" fill="#26b797"/>
<circle cx="569.0" cy="199.9" r="2.15" fill="#12aeb3"/>
<circle cx="572.2" cy="199.9" r="2.15" fill="#13abb8"/>
<circle cx="575.3" cy="199.9" r="2.15" fill="#13acb8"/>
<circle cx="578.5" cy="199.9" r="2.15" fill="#13adb6"/>
<circle cx="581.7" cy="199.9" r="2.15" fill="#12aeb3"/>
<circle cx="584.8" cy="199.9" r="2.15" fill="#12aeb2"/>
<circle cx="588.0" cy="199.9" r="2.15" fill="#11afb0"/>
<circle cx="591.2" cy="199.9" r="2.15" fill="#12b1ad"/>
<circle cx="594.3" cy="199.9" r="2.15" fill="#13acb6"/>
<circle cx="597.5" cy="199.9" r="2.15" fill="#13acb6"/>
<circle cx="600.6" cy="199.9" r="2.15" fill="#12aeb3"/>
<circle cx="603.8" cy="199.9" r="2.15" fill="#12aeb3"/>
<circle cx="607.0" cy="199.9" r="2.15" fill="#11b0af"/>
<circle cx="610.1" cy="199.9" r="2.15" fill="#11b1ad"/>
<circle cx="613.3" cy="199.9" r="2.15" fill="#12afb1"/>
<circle cx="616.5" cy="199.9" r="2.15" fill="#11b0b0"/>
<circle cx="619.6" cy="199.9" r="2.15" fill="#11b0af"/>
<circle cx="622.8" cy="199.9" r="2.15" fill="#13acb7"/>
<circle cx="625.9" cy="199.9" r="2.15" fill="#12adb4"/>
<circle cx="629.1" cy="199.9" r="2.15" fill="#12aeb4"/>
<circle cx="471.0" cy="196.3" r="2.15" fill="#13acb7"/>
<circle cx="516.8" cy="196.3" r="2.15" fill="#12adb5"/>
<circle cx="520.0" cy="196.3" r="2.15" fill="#13acb6"/>
<circle cx="523.2" cy="196.3" r="2.15" fill="#11afb0"/>
<circle cx="526.3" cy="196.3" r="2.15" fill="#12adb5"/>
<circle cx="529.5" cy="196.3" r="2.15" fill="#12adb4"/>
<circle cx="532.7" cy="196.3" r="2.15" fill="#12b1ad"/>
<circle cx="535.8" cy="196.3" r="2.15" fill="#1bb4a3"/>
<circle cx="539.0" cy="196.3" r="2.15" fill="#24b799"/>
<circle cx="542.1" cy="196.3" r="2.15" fill="#1db5a1"/>
<circle cx="545.3" cy="196.3" r="2.15" fill="#1bb4a3"/>
<circle cx="548.5" cy="196.3" r="2.15" fill="#21b69d"/>
<circle cx="551.6" cy="196.3" r="2.15" fill="#1db4a1"/>
<circle cx="554.8" cy="196.3" r="2.15" fill="#2ab993"/>
<circle cx="558.0" cy="196.3" r="2.15" fill="#21b69d"/>
<circle cx="561.1" cy="196.3" r="2.15" fill="#1ab3a4"/>
<circle cx="564.3" cy="196.3" r="2.15" fill="#24b799"/>
<circle cx="567.4" cy="196.3" r="2.15" fill="#13acb7"/>
<circle cx="570.6" cy="196.3" r="2.15" fill="#12afb1"/>
<circle cx="573.8" cy="196.3" r="2.15" fill="#11afb1"/>
<circle cx="576.9" cy="196.3" r="2.15" fill="#11b0b0"/>
<circle cx="580.1" cy="196.3" r="2.15" fill="#11b0b0"/>
<circle cx="583.3" cy="196.3" r="2.15" fill="#13abb8"/>
<circle cx="586.4" cy="196.3" r="2.15" fill="#13abb8"/>
<circle cx="589.6" cy="196.3" r="2.15" fill="#11b0b0"/>
<circle cx="592.7" cy="196.3" r="2.15" fill="#12afb2"/>
<circle cx="595.9" cy="196.3" r="2.15" fill="#12b1ad"/>
<circle cx="599.1" cy="196.3" r="2.15" fill="#12aeb3"/>
<circle cx="602.2" cy="196.3" r="2.15" fill="#13acb7"/>
<circle cx="605.4" cy="196.3" r="2.15" fill="#13abb8"/>
<circle cx="608.5" cy="196.3" r="2.15" fill="#13abb8"/>
<circle cx="611.7" cy="196.3" r="2.15" fill="#13acb6"/>
<circle cx="614.9" cy="196.3" r="2.15" fill="#11b0af"/>
<circle cx="618.0" cy="196.3" r="2.15" fill="#12afb1"/>
<circle cx="621.2" cy="196.3" r="2.15" fill="#11b1ae"/>
<circle cx="624.4" cy="196.3" r="2.15" fill="#11b1ad"/>
<circle cx="471.0" cy="192.7" r="2.15" fill="#12aeb2"/>
<circle cx="515.3" cy="192.7" r="2.15" fill="#13acb7"/>
<circle cx="518.4" cy="192.7" r="2.15" fill="#13acb6"/>
<circle cx="521.6" cy="192.7" r="2.15" fill="#11afb1"/>
<circle cx="524.8" cy="192.7" r="2.15" fill="#13acb7"/>
<circle cx="527.9" cy="192.7" r="2.15" fill="#12aeb2"/>
<circle cx="531.1" cy="192.7" r="2.15" fill="#12aeb2"/>
<circle cx="534.2" cy="192.7" r="2.15" fill="#28b895"/>
<circle cx="537.4" cy="192.7" r="2.15" fill="#28b895"/>
<circle cx="540.6" cy="192.7" r="2.15" fill="#bab330"/>
<circle cx="543.7" cy="192.7" r="2.15" fill="#98ba44"/>
<circle cx="546.9" cy="192.7" r="2.15" fill="#96ba45"/>
<circle cx="550.0" cy="192.7" r="2.15" fill="#65bd64"/>
<circle cx="553.2" cy="192.7" r="2.15" fill="#8bbc4b"/>
<circle cx="556.4" cy="192.7" r="2.15" fill="#7cbe55"/>
<circle cx="559.5" cy="192.7" r="2.15" fill="#7fbe52"/>
<circle cx="562.7" cy="192.7" r="2.15" fill="#74be5a"/>
<circle cx="565.9" cy="192.7" r="2.15" fill="#47bd79"/>
<circle cx="569.0" cy="192.7" r="2.15" fill="#11b1ad"/>
<circle cx="572.2" cy="192.7" r="2.15" fill="#12b1ac"/>
<circle cx="575.3" cy="192.7" r="2.15" fill="#11afb1"/>
<circle cx="578.5" cy="192.7" r="2.15" fill="#19b3a5"/>
<circle cx="581.7" cy="192.7" r="2.15" fill="#1eb5a0"/>
<circle cx="584.8" cy="192.7" r="2.15" fill="#1fb59e"/>
<circle cx="588.0" cy="192.7" r="2.15" fill="#11afb0"/>
<circle cx="591.2" cy="192.7" r="2.15" fill="#11b1ae"/>
<circle cx="594.3" cy="192.7" r="2.15" fill="#19b3a5"/>
<circle cx="597.5" cy="192.7" r="2.15" fill="#11afb1"/>
<circle cx="600.6" cy="192.7" r="2.15" fill="#11b1ad"/>
<circle cx="603.8" cy="192.7" r="2.15" fill="#15b2aa"/>
<circle cx="607.0" cy="192.7" r="2.15" fill="#1cb4a2"/>
<circle cx="610.1" cy="192.7" r="2.15" fill="#11afb1"/>
<circle cx="613.3" cy="192.7" r="2.15" fill="#11afb0"/>
<circle cx="616.5" cy="192.7" r="2.15" fill="#11b1ad"/>
<circle cx="619.6" cy="192.7" r="2.15" fill="#11b1ad"/>
<circle cx="471.0" cy="189.0" r="2.15" fill="#13acb6"/>
<circle cx="516.8" cy="189.0" r="2.15" fill="#12afb1"/>
<circle cx="520.0" cy="189.0" r="2.15" fill="#13acb6"/>
<circle cx="523.2" cy="189.0" r="2.15" fill="#13abb8"/>
<circle cx="526.3" cy="189.0" r="2.15" fill="#11b1ae"/>
<circle cx="529.5" cy="189.0" r="2.15" fill="#12aeb3"/>
<circle cx="535.8" cy="189.0" r="2.15" fill="#28b895"/>
<circle cx="539.0" cy="189.0" r="2.15" fill="#86bd4e"/>
<circle cx="542.1" cy="189.0" r="2.15" fill="#b5b433"/>
<circle cx="545.3" cy="189.0" r="2.15" fill="#bcb32f"/>
<circle cx="548.5" cy="189.0" r="2.15" fill="#78be57"/>
<circle cx="551.6" cy="189.0" r="2.15" fill="#7ebe53"/>
<circle cx="554.8" cy="189.0" r="2.15" fill="#7ebe53"/>
<circle cx="558.0" cy="189.0" r="2.15" fill="#75be59"/>
<circle cx="561.1" cy="189.0" r="2.15" fill="#63bd66"/>
<circle cx="564.3" cy="189.0" r="2.15" fill="#61bd67"/>
<circle cx="567.4" cy="189.0" r="2.15" fill="#1bb4a3"/>
<circle cx="570.6" cy="189.0" r="2.15" fill="#11afb1"/>
<circle cx="573.8" cy="189.0" r="2.15" fill="#1eb5a0"/>
<circle cx="576.9" cy="189.0" r="2.15" fill="#11b0b0"/>
<circle cx="580.1" cy="189.0" r="2.15" fill="#11b0ae"/>
<circle cx="583.3" cy="189.0" r="2.15" fill="#14b2aa"/>
<circle cx="586.4" cy="189.0" r="2.15" fill="#12afb1"/>
<circle cx="589.6" cy="189.0" r="2.15" fill="#1eb59f"/>
<circle cx="592.7" cy="189.0" r="2.15" fill="#15b2aa"/>
<circle cx="595.9" cy="189.0" r="2.15" fill="#14b2aa"/>
<circle cx="599.1" cy="189.0" r="2.15" fill="#13b2ab"/>
<circle cx="602.2" cy="189.0" r="2.15" fill="#1eb5a0"/>
<circle cx="605.4" cy="189.0" r="2.15" fill="#13b2ab"/>
<circle cx="608.5" cy="189.0" r="2.15" fill="#1ab3a4"/>
<circle cx="611.7" cy="189.0" r="2.15" fill="#20b59e"/>
<circle cx="614.9" cy="189.0" r="2.15" fill="#15b2a9"/>
<circle cx="471.0" cy="185.4" r="2.15" fill="#12b1ad"/>
<circle cx="518.4" cy="185.4" r="2.15" fill="#12afb2"/>
<circle cx="521.6" cy="185.4" r="2.15" fill="#12aeb4"/>
<circle cx="524.8" cy="185.4" r="2.15" fill="#12aeb3"/>
<circle cx="534.2" cy="185.4" r="2.15" fill="#eace25"/>
<circle cx="537.4" cy="185.4" r="2.15" fill="#ead024"/>
<circle cx="540.6" cy="185.4" r="2.15" fill="#eacc26"/>
<circle cx="543.7" cy="185.4" r="2.15" fill="#91bb47"/>
<circle cx="546.9" cy="185.4" r="2.15" fill="#e9da1e"/>
<circle cx="550.0" cy="185.4" r="2.15" fill="#e4b431"/>
<circle cx="553.2" cy="185.4" r="2.15" fill="#eacf24"/>
<circle cx="556.4" cy="185.4" r="2.15" fill="#e3b430"/>
<circle cx="559.5" cy="185.4" r="2.15" fill="#eab534"/>
<circle cx="562.7" cy="185.4" r="2.15" fill="#ecb932"/>
<circle cx="565.9" cy="185.4" r="2.15" fill="#eab534"/>
<circle cx="569.0" cy="185.4" r="2.15" fill="#16b2a8"/>
<circle cx="572.2" cy="185.4" r="2.15" fill="#1cb4a1"/>
<circle cx="575.3" cy="185.4" r="2.15" fill="#12b1ad"/>
<circle cx="578.5" cy="185.4" r="2.15" fill="#14b2aa"/>
<circle cx="581.7" cy="185.4" r="2.15" fill="#28b894"/>
<circle cx="584.8" cy="185.4" r="2.15" fill="#2cb990"/>
<circle cx="588.0" cy="185.4" r="2.15" fill="#19b3a5"/>
<circle cx="591.2" cy="185.4" r="2.15" fill="#18b3a6"/>
<circle cx="594.3" cy="185.4" r="2.15" fill="#13b1ac"/>
<circle cx="597.5" cy="185.4" r="2.15" fill="#16b2a8"/>
<circle cx="600.6" cy="185.4" r="2.15" fill="#11b1ae"/>
<circle cx="535.8" cy="181.8" r="2.15" fill="#e9db1d"/>
<circle cx="539.0" cy="181.8" r="2.15" fill="#e9d720"/>
<circle cx="542.1" cy="181.8" r="2.15" fill="#e9de1b"/>
<circle cx="545.3" cy="181.8" r="2.15" fill="#e9df1a"/>
<circle cx="548.5" cy="181.8" r="2.15" fill="#e9d421"/>
<circle cx="551.6" cy="181.8" r="2.15" fill="#e8b533"/>
<circle cx="554.8" cy="181.8" r="2.15" fill="#ebbf2e"/>
<circle cx="558.0" cy="181.8" r="2.15" fill="#eab533"/>
<circle cx="561.1" cy="181.8" r="2.15" fill="#e7b432"/>
<circle cx="564.3" cy="181.8" r="2.15" fill="#e9b533"/>
<circle cx="567.4" cy="181.8" r="2.15" fill="#11b0af"/>
<circle cx="570.6" cy="181.8" r="2.15" fill="#1bb4a2"/>
<circle cx="573.8" cy="181.8" r="2.15" fill="#32bb8a"/>
<circle cx="576.9" cy="181.8" r="2.15" fill="#26b797"/>
<circle cx="580.1" cy="181.8" r="2.15" fill="#35bc87"/>
<circle cx="537.4" cy="178.2" r="2.15" fill="#e9d81f"/>
<circle cx="540.6" cy="178.2" r="2.15" fill="#e9d91e"/>
<circle cx="543.7" cy="178.2" r="2.15" fill="#91bb47"/>
<circle cx="546.9" cy="178.2" r="2.15" fill="#e9d81f"/>
<circle cx="550.0" cy="178.2" r="2.15" fill="#eacf24"/>
<circle cx="553.2" cy="178.2" r="2.15" fill="#eacf24"/>
<circle cx="556.4" cy="178.2" r="2.15" fill="#ecb734"/>
<circle cx="559.5" cy="178.2" r="2.15" fill="#ecb634"/>
<circle cx="562.7" cy="178.2" r="2.15" fill="#ecb932"/>
<circle cx="565.9" cy="178.2" r="2.15" fill="#e4b431"/>
<circle cx="569.0" cy="178.2" r="2.15" fill="#30ba8c"/>
<circle cx="572.2" cy="178.2" r="2.15" fill="#36bc86"/>
<circle cx="575.3" cy="178.2" r="2.15" fill="#26b797"/>
<circle cx="548.5" cy="174.5" r="2.15" fill="#e9dd1c"/>
<circle cx="551.6" cy="174.5" r="2.15" fill="#ecba32"/>
<circle cx="554.8" cy="174.5" r="2.15" fill="#ecb833"/>
<circle cx="558.0" cy="174.5" r="2.15" fill="#e3b430"/>
<circle cx="561.1" cy="174.5" r="2.15" fill="#ecb734"/>
<circle cx="564.3" cy="174.5" r="2.15" fill="#eacf24"/>
<circle cx="567.4" cy="174.5" r="2.15" fill="#30ba8c"/>
<circle cx="570.6" cy="174.5" r="2.15" fill="#30ba8c"/>
<circle cx="546.9" cy="170.9" r="2.15" fill="#eacf24"/>
<circle cx="550.0" cy="170.9" r="2.15" fill="#e6b432"/>
<circle cx="553.2" cy="170.9" r="2.15" fill="#ecbb31"/>
<circle cx="556.4" cy="170.9" r="2.15" fill="#e8b533"/>
<circle cx="559.5" cy="170.9" r="2.15" fill="#ebb534"/>
<circle cx="562.7" cy="170.9" r="2.15" fill="#ebb534"/>
<circle cx="565.9" cy="170.9" r="2.15" fill="#ecbb31"/>
<circle cx="569.0" cy="170.9" r="2.15" fill="#d9b22c"/>
<circle cx="548.5" cy="167.3" r="2.15" fill="#91bb47"/>
<circle cx="551.6" cy="167.3" r="2.15" fill="#e7b432"/>
<circle cx="554.8" cy="167.3" r="2.15" fill="#ecb932"/>
<circle cx="558.0" cy="167.3" r="2.15" fill="#ecb634"/>
<circle cx="511.8" cy="192.4" r="2.15" fill="#2a63dd"/>
<circle cx="514.8" cy="185.3" r="2.15" fill="#e2e2e2"/>
<circle cx="508.6" cy="203.2" r="2.15" fill="#e2e2e2"/>
<circle cx="619.2" cy="193.0" r="2.15" fill="#2a7bd8"/>
<circle cx="625.5" cy="191.0" r="2.15" fill="#dedede"/>
<circle cx="539.8" cy="176.0" r="2.15" fill="#2a63dd"/>
<circle cx="547.1" cy="147.3" r="2.15" fill="#e9d521"/>
<circle cx="551.3" cy="147.3" r="2.15" fill="#11b1ae"/>
<circle cx="546.7" cy="151.0" r="2.15" fill="#15a7bf"/>
<circle cx="551.0" cy="152.0" r="2.15" fill="#d9b22c"/>
<circle cx="549.0" cy="155.8" r="2.15" fill="#17a2ca"/>
<circle cx="554.7" cy="156.8" r="2.15" fill="#d9b22c"/>
<circle cx="550.0" cy="161.5" r="2.15" fill="#15a7bf"/>
<circle cx="558.5" cy="161.5" r="2.15" fill="#d9b22c"/>
<circle cx="553.0" cy="159.5" r="2.15" fill="#d9b22c"/>
<circle cx="549.0" cy="168.2" r="2.15" fill="#17a2ca"/>
<circle cx="561.0" cy="164.5" r="2.15" fill="#d9b22c"/>
<circle cx="564.0" cy="167.5" r="2.15" fill="#d9b22c"/>
<circle cx="568.8" cy="170.5" r="2.15" fill="#d9b22c"/>
<circle cx="571.7" cy="176.2" r="2.15" fill="#30ba8c"/>
<rect x="517.28" y="156.4" width="2.3" height="51.6" fill="#333" fill-opacity="0.8"/>
<rect x="548.90" y="157.8" width="2.3" height="50.2" fill="#333" fill-opacity="0.8"/>
<rect x="564.71" y="155.8" width="2.3" height="52.2" fill="#333" fill-opacity="0.8"/>
<text class="ss" font-size="10.3" textLength="13.7" lengthAdjust="spacingAndGlyphs" transform="translate(522.2,152.8) rotate(-90)">HO</text>
<text class="ss" font-size="10.3" textLength="18.1" lengthAdjust="spacingAndGlyphs" transform="translate(553.8,157.2) rotate(-90)">TDc</text>
<text class="ss" font-size="10.3" textLength="12.3" lengthAdjust="spacingAndGlyphs" transform="translate(569.7,151.4) rotate(-90)">TO</text>
<g><text x="492.4" y="129.8" font-size="10" textLength="40.6" lengthAdjust="spacingAndGlyphs">Reference</text><text x="538.0" y="129.8" font-size="10" textLength="7.0" lengthAdjust="spacingAndGlyphs">&#916;</text><text x="547.0" y="129.8" font-size="10" font-style="italic">p</text><text x="552.3" y="131.8" font-size="7" font-style="italic">x</text><text x="560.6" y="129.8" font-size="10" textLength="7.6" lengthAdjust="spacingAndGlyphs">=</text><text x="572.0" y="129.8" font-size="10" textLength="21.4" lengthAdjust="spacingAndGlyphs">15.22</text><text x="596.0" y="129.8" font-size="10" textLength="11.0" lengthAdjust="spacingAndGlyphs">Ns</text></g>
<text x="468.4" y="209.9" font-size="7.8" text-anchor="end">0</text>
<text x="468.4" y="173.6" font-size="7.8" text-anchor="end">20</text>
<text x="468.4" y="137.3" font-size="7.8" text-anchor="end">40</text>
<text x="471.0" y="217.5" font-size="7.8" text-anchor="middle">0</text>
<text x="502.6" y="217.5" font-size="7.8" text-anchor="middle">20</text>
<text x="534.2" y="217.5" font-size="7.8" text-anchor="middle">40</text>
<text x="565.9" y="217.5" font-size="7.8" text-anchor="middle">60</text>
<text x="597.5" y="217.5" font-size="7.8" text-anchor="middle">80</text>
<text x="629.1" y="217.5" font-size="7.8" text-anchor="middle">100</text>
<rect x="642.6" y="134.4" width="12.4" height="72.6" fill="url(#gp)" stroke="#222" stroke-width="0.6"/>
<line x1="653.2" x2="655.0" y1="139" y2="139" stroke="#222" stroke-width="0.5"/>
<text x="658.0" y="141.8" font-size="7.8" class="ss">40</text>
<line x1="653.2" x2="655.0" y1="155.6" y2="155.6" stroke="#222" stroke-width="0.5"/>
<text x="658.0" y="158.4" font-size="7.8" class="ss">20</text>
<line x1="653.2" x2="655.0" y1="171.6" y2="171.6" stroke="#222" stroke-width="0.5"/>
<text x="658.0" y="174.4" font-size="7.8" class="ss">0</text>
<line x1="653.2" x2="655.0" y1="188" y2="188" stroke="#222" stroke-width="0.5"/>
<text x="658.0" y="190.8" font-size="7.8" class="ss">-20</text>
<line x1="653.2" x2="655.0" y1="204.4" y2="204.4" stroke="#222" stroke-width="0.5"/>
<text x="658.0" y="207.2" font-size="7.8" class="ss">-40</text>
<g transform="translate(680.2,189.5) rotate(-90)"><text x="0.0" y="0.0" font-size="10">&#916;</text><text x="9.2" y="0.0" font-size="10" font-style="italic">p</text><text x="14.4" y="2.0" font-size="7" font-style="italic">x</text><text x="20.5" y="0.0" font-size="10" textLength="14.5" lengthAdjust="spacingAndGlyphs">(%)</text></g>
</g>
<g transform="translate(557.5,44.8)"><circle r="4.1" fill="#fff" stroke="#000" stroke-width="1.4"/><path d="M-1.9,-1.9L1.9,1.9M-1.9,1.9L1.9,-1.9" stroke="#000" stroke-width="1.2" fill="none"/></g>
<g transform="translate(556.1,165.8)"><circle r="4.1" fill="#fff" stroke="#000" stroke-width="1.4"/><path d="M-1.9,-1.9L1.9,1.9M-1.9,1.9L1.9,-1.9" stroke="#000" stroke-width="1.2" fill="none"/></g>
<g transform="translate(509.6,108.2)"><text x="0.0" y="0.0" font-size="10.03" textLength="7.7" lengthAdjust="spacingAndGlyphs" font-style="italic">gc</text><text x="8.3" y="2.9" font-size="9.17" textLength="11.8" lengthAdjust="spacingAndGlyphs">off</text><text x="22.8" y="0.0" font-size="10.03" textLength="59.8" lengthAdjust="spacingAndGlyphs">(% gait cycle)</text></g>
<g transform="translate(509.6,229.0)"><text x="0.0" y="0.0" font-size="10.03" textLength="7.7" lengthAdjust="spacingAndGlyphs" font-style="italic">gc</text><text x="8.3" y="2.9" font-size="9.17" textLength="11.8" lengthAdjust="spacingAndGlyphs">off</text><text x="22.8" y="0.0" font-size="10.03" textLength="59.8" lengthAdjust="spacingAndGlyphs">(% gait cycle)</text></g>
<g transform="translate(454.8,88.0) rotate(-90)"><text x="0.0" y="0.0" font-size="9.86" textLength="3.4" lengthAdjust="spacingAndGlyphs" font-style="italic">t</text><text x="4.0" y="2.8" font-size="9.01" textLength="11.6" lengthAdjust="spacingAndGlyphs">off</text><text x="18.3" y="0.0" font-size="9.86" textLength="58.7" lengthAdjust="spacingAndGlyphs">(% gait cycle)</text></g>
<g transform="translate(454.8,209.0) rotate(-90)"><text x="0.0" y="0.0" font-size="9.86" textLength="3.4" lengthAdjust="spacingAndGlyphs" font-style="italic">t</text><text x="4.0" y="2.8" font-size="9.01" textLength="11.6" lengthAdjust="spacingAndGlyphs">off</text><text x="18.3" y="0.0" font-size="9.86" textLength="58.7" lengthAdjust="spacingAndGlyphs">(% gait cycle)</text></g>
<text x="157.9" y="258.0" font-size="14.3" textLength="17.5" lengthAdjust="spacingAndGlyphs" class="ss" font-weight="bold">(a)</text>
<text x="180.1" y="258.0" font-size="14.6" textLength="82.0" lengthAdjust="spacingAndGlyphs">Stability map.</text>
<text x="499.3" y="258.2" font-size="14.3" textLength="18.3" lengthAdjust="spacingAndGlyphs" class="ss" font-weight="bold">(b)</text>
<text x="522.2" y="258.2" font-size="14.6" textLength="116.9" lengthAdjust="spacingAndGlyphs">Gait characteristics.</text>
</svg></body></html>
